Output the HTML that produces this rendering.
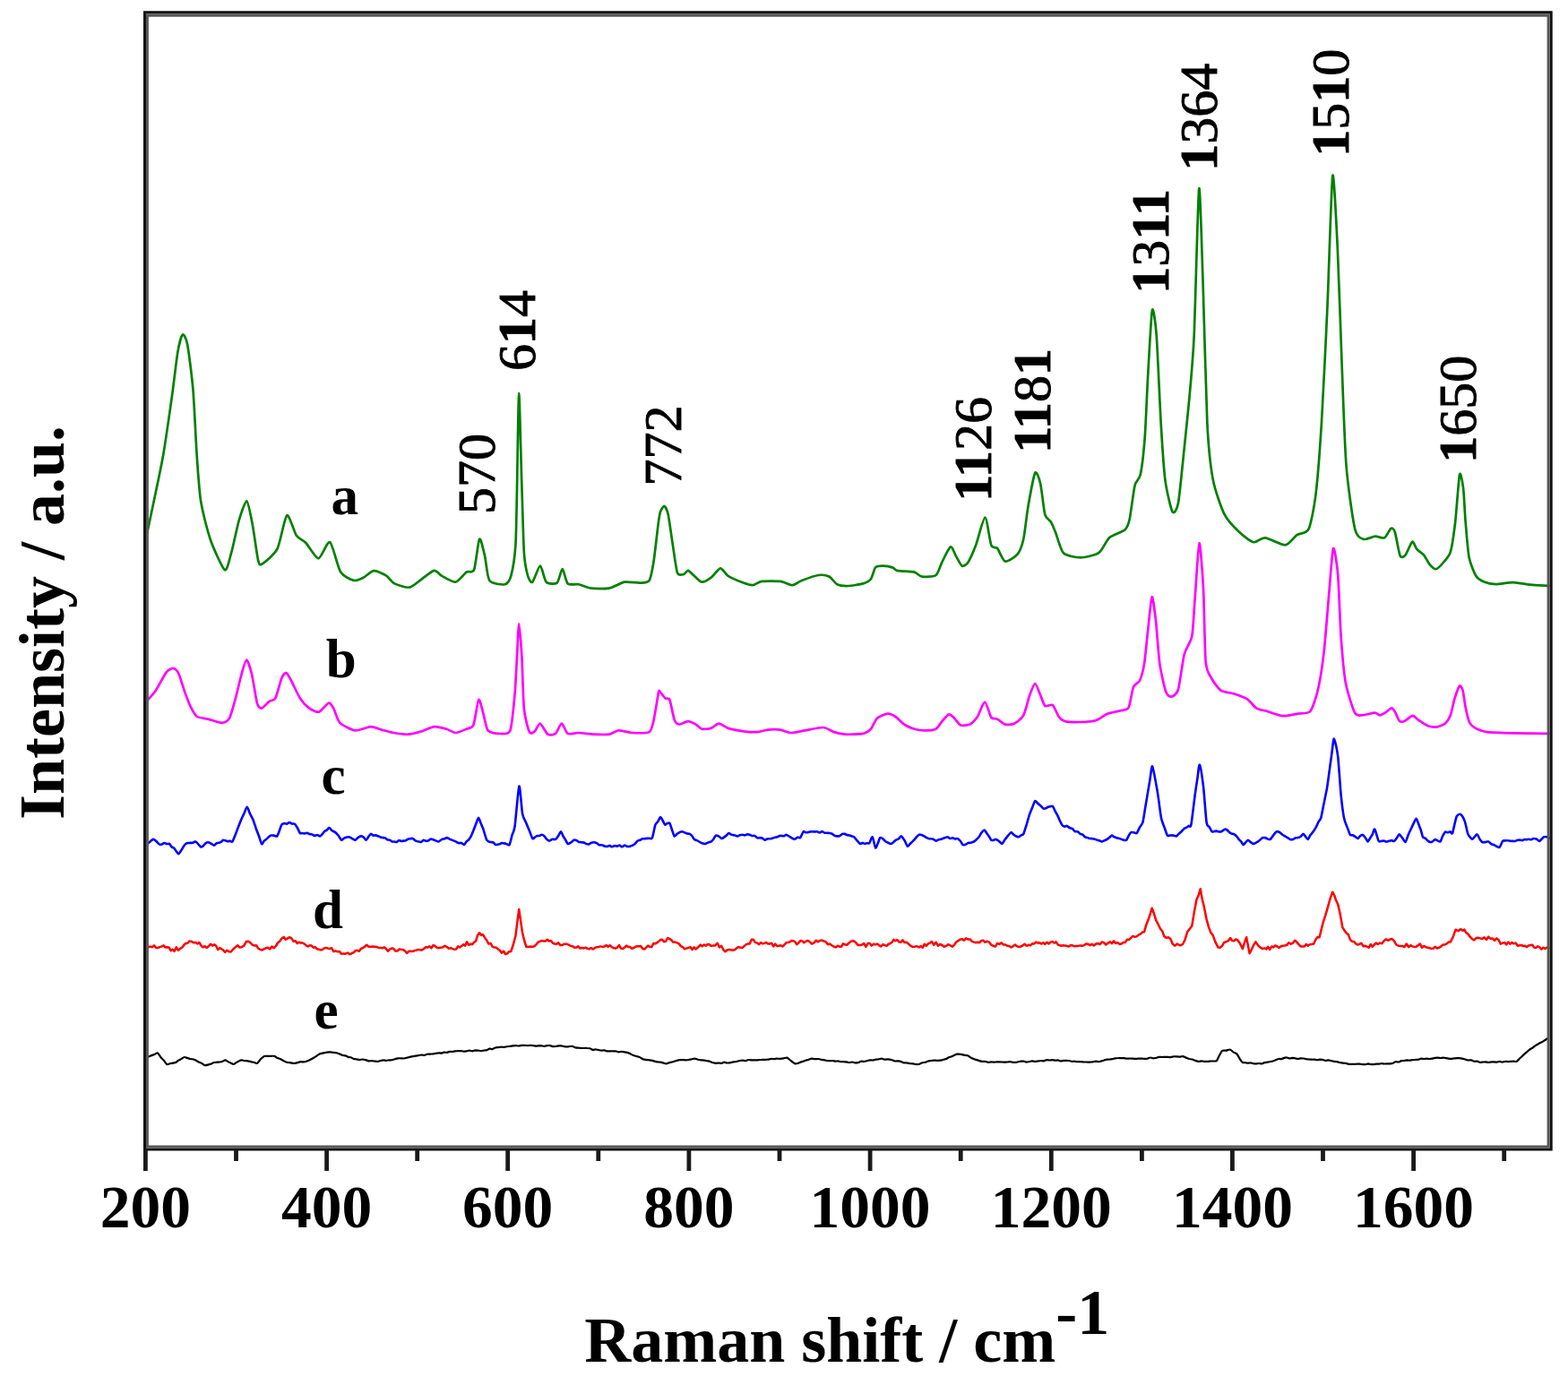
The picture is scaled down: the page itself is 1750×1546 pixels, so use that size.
<!DOCTYPE html>
<html><head><meta charset="utf-8"><title>Raman spectra</title>
<style>html,body{margin:0;padding:0;background:#fff;}svg{display:block;filter:blur(0.55px);}</style>
</head><body>
<svg width="1750" height="1546" viewBox="0 0 1750 1546">
<rect width="1750" height="1546" fill="#fff"/>
<path d="M163.2 599.8 C165.3 589.6 178.0 530.7 181.4 512.3 C184.8 493.9 190.0 455.8 192.0 441.8 C194.0 427.8 197.0 400.7 198.4 392.7 C199.8 384.7 202.6 374.5 203.8 373.5 C205.0 372.5 207.7 377.0 209.1 384.2 C210.5 391.4 214.3 420.7 215.5 435.4 C216.7 450.1 218.8 495.5 219.8 510.0 C220.8 524.5 222.4 548.6 224.1 559.3 C225.8 570.0 231.6 593.0 234.7 602.0 C237.8 611.0 248.1 634.4 250.8 636.1 C253.5 637.8 256.3 623.4 258.2 616.9 C260.1 610.4 264.8 587.3 266.8 580.6 C268.8 573.9 273.6 558.8 275.3 559.3 C277.0 559.8 280.2 577.2 281.7 584.9 C283.2 592.6 286.9 620.3 288.1 625.5 C289.3 630.7 289.9 631.2 292.4 629.7 C294.9 628.2 306.3 618.9 309.5 612.6 C312.7 606.3 317.7 577.0 320.2 575.3 C322.7 573.6 328.3 594.1 330.8 597.7 C333.3 601.3 338.6 603.2 341.5 606.2 C344.4 609.2 352.3 623.4 355.4 623.3 C358.5 623.2 365.3 603.5 368.2 605.2 C371.1 607.0 376.9 633.3 380.0 638.3 C383.1 643.3 391.9 647.2 394.9 647.9 C397.9 648.6 403.0 645.9 405.6 644.7 C408.2 643.5 414.3 637.4 417.3 637.2 C420.3 637.0 428.6 641.0 431.2 642.6 C433.8 644.2 436.7 649.6 439.7 651.1 C442.7 652.6 453.5 656.3 457.1 655.7 C460.7 655.1 467.7 648.5 470.9 646.3 C474.1 644.1 482.0 637.3 484.6 636.9 C487.2 636.5 490.3 641.4 493.1 642.9 C495.9 644.4 505.4 650.2 508.6 649.7 C511.8 649.2 518.2 640.2 520.6 638.6 C523.0 637.0 527.4 640.3 529.1 636.0 C530.8 631.7 533.7 603.5 535.1 601.7 C536.5 599.9 539.8 615.2 541.1 620.6 C542.4 626.0 543.7 644.3 546.3 648.0 C548.9 651.7 560.6 652.9 563.4 652.3 C566.2 651.7 568.9 648.0 570.3 642.9 C571.7 637.8 574.6 620.6 575.4 608.6 C576.2 596.6 576.7 559.8 577.1 540.0 C577.5 520.2 578.6 438.9 579.2 438.9 C579.8 438.9 581.6 519.2 582.3 540.0 C583.0 560.8 584.1 605.2 584.9 617.2 C585.7 629.2 588.0 639.1 589.1 642.9 C590.2 646.7 592.7 651.0 594.3 649.7 C595.9 648.4 601.1 631.7 602.9 631.7 C604.7 631.7 607.5 647.5 609.7 649.7 C611.9 651.9 619.6 652.3 621.7 650.6 C623.8 648.9 626.3 635.1 627.7 635.2 C629.1 635.3 631.6 649.4 633.7 651.4 C635.8 653.4 642.7 651.7 645.7 652.3 C648.7 652.9 655.4 656.1 659.4 656.6 C663.4 657.1 675.6 657.4 680.0 656.6 C684.4 655.8 693.1 650.4 697.1 649.7 C701.1 649.0 711.1 650.8 714.3 650.6 C717.5 650.4 722.8 650.9 724.6 648.0 C726.4 645.1 728.5 633.3 729.7 625.7 C730.9 618.1 734.0 589.3 734.9 582.9 C735.8 576.5 736.3 573.0 737.1 570.9 C737.9 568.8 740.4 564.5 741.4 564.9 C742.4 565.3 744.6 569.2 745.7 574.3 C746.8 579.4 749.7 601.0 750.9 608.6 C752.1 616.2 754.6 635.6 756.0 639.4 C757.4 643.2 761.5 641.4 762.9 641.1 C764.3 640.8 766.6 636.7 768.0 636.9 C769.4 637.1 773.1 641.4 774.9 642.9 C776.7 644.4 781.2 649.5 783.4 649.7 C785.6 649.9 791.3 646.4 793.7 644.6 C796.1 642.8 801.8 634.5 804.0 634.3 C806.2 634.1 809.6 641.0 812.6 642.9 C815.6 644.8 826.5 649.4 829.7 650.6 C832.9 651.8 837.6 653.4 840.0 653.2 C842.4 653.0 846.7 649.4 850.3 648.9 C853.9 648.4 866.9 648.4 870.9 648.9 C874.9 649.4 881.8 653.3 884.6 653.2 C887.4 653.1 891.5 649.3 894.9 648.0 C898.3 646.7 910.1 642.5 913.7 642.0 C917.3 641.5 923.3 642.5 925.7 643.7 C928.1 644.9 931.9 651.1 934.3 652.3 C936.7 653.5 942.9 654.1 946.3 654.0 C949.7 653.9 960.4 652.3 963.4 651.4 C966.4 650.5 970.4 648.4 972.0 646.3 C973.6 644.2 975.5 635.1 977.1 633.4 C978.7 631.7 983.5 631.7 985.7 631.7 C987.9 631.7 994.2 632.8 996.0 633.4 C997.8 634.0 999.4 636.4 1001.1 636.9 C1002.8 637.4 1008.0 637.5 1010.3 637.7 C1012.6 637.9 1018.4 637.9 1020.6 638.6 C1022.8 639.3 1026.3 643.3 1029.1 643.7 C1031.9 644.1 1042.0 643.9 1044.6 642.0 C1047.2 640.1 1049.5 631.1 1051.4 627.4 C1053.3 623.7 1059.1 611.1 1060.9 610.3 C1062.7 609.5 1065.4 618.1 1066.9 620.6 C1068.4 623.1 1072.1 630.9 1073.7 631.7 C1075.3 632.5 1078.8 630.1 1080.6 627.4 C1082.4 624.7 1086.9 614.4 1089.1 608.6 C1091.3 602.8 1097.4 577.7 1099.4 577.7 C1101.4 577.7 1104.7 604.6 1106.3 608.6 C1107.9 612.6 1111.3 609.9 1113.1 612.0 C1114.9 614.1 1119.1 625.8 1121.7 626.6 C1124.3 627.4 1133.0 621.8 1135.4 618.9 C1137.8 616.0 1140.9 607.9 1142.3 601.7 C1143.7 595.5 1145.9 574.3 1147.4 565.7 C1148.9 557.1 1153.6 531.0 1155.2 528.0 C1156.8 525.0 1159.9 534.6 1161.2 540.0 C1162.5 545.4 1164.9 569.3 1166.3 574.3 C1167.7 579.3 1171.7 580.5 1173.1 582.9 C1174.5 585.3 1176.7 590.9 1178.3 594.9 C1179.9 598.9 1183.7 614.0 1186.9 617.2 C1190.1 620.4 1201.1 622.3 1205.7 622.3 C1210.3 622.3 1222.5 619.8 1226.3 617.2 C1230.1 614.6 1234.9 603.0 1238.3 600.0 C1241.7 597.0 1252.8 593.7 1255.4 591.4 C1258.0 589.1 1259.3 585.8 1260.6 580.0 C1261.9 574.2 1265.1 548.0 1266.5 542.1 C1267.9 536.2 1271.6 535.6 1272.9 529.2 C1274.2 522.8 1276.9 499.5 1277.8 487.1 C1278.7 474.7 1280.1 438.9 1281.0 422.5 C1281.9 406.1 1284.8 352.2 1285.9 346.5 C1287.0 340.8 1289.6 359.5 1290.7 374.0 C1291.8 388.5 1294.5 452.1 1295.6 471.0 C1296.7 489.9 1298.9 523.9 1300.4 535.6 C1301.9 547.3 1306.8 568.2 1308.5 571.2 C1310.2 574.2 1313.5 569.4 1315.0 561.5 C1316.5 553.6 1319.9 517.6 1321.4 503.3 C1322.9 489.0 1326.6 453.7 1327.9 438.6 C1329.2 423.5 1331.5 400.6 1332.7 374.0 C1333.9 347.4 1337.1 218.2 1338.2 210.7 C1339.3 203.2 1341.3 278.9 1342.4 309.3 C1343.5 339.7 1346.0 444.6 1347.3 471.0 C1348.6 497.4 1351.5 523.5 1353.8 535.6 C1356.1 547.7 1363.3 567.6 1366.7 574.4 C1370.1 581.2 1379.1 590.2 1382.9 593.8 C1386.7 597.4 1395.6 604.4 1399.0 605.2 C1402.4 606.0 1407.8 599.9 1412.0 600.3 C1416.2 600.7 1430.5 608.8 1434.6 608.4 C1438.7 608.0 1444.5 599.2 1447.5 597.1 C1450.5 595.0 1458.0 595.9 1460.5 590.6 C1463.0 585.3 1466.8 565.8 1468.5 551.8 C1470.2 537.8 1473.5 495.5 1475.0 471.0 C1476.5 446.5 1480.1 373.8 1481.5 341.7 C1482.9 309.6 1486.0 203.7 1487.3 196.2 C1488.6 188.7 1491.6 252.5 1492.8 277.0 C1494.0 301.5 1496.5 378.0 1497.6 406.3 C1498.7 434.6 1500.8 498.0 1502.5 519.5 C1504.2 541.0 1509.9 581.0 1512.2 590.6 C1514.5 600.2 1519.3 601.0 1521.9 601.9 C1524.5 602.8 1532.1 598.9 1534.8 598.7 C1537.5 598.5 1543.2 601.3 1545.2 600.3 C1547.2 599.3 1550.9 590.8 1552.3 590.0 C1553.7 589.2 1555.6 590.3 1556.8 593.8 C1558.0 597.3 1561.2 617.4 1562.6 620.4 C1564.0 623.4 1566.9 621.5 1568.5 619.7 C1570.1 617.9 1574.7 605.6 1576.2 604.8 C1577.7 604.0 1579.9 611.5 1581.4 613.2 C1582.9 614.9 1587.5 617.7 1589.2 619.7 C1590.9 621.7 1594.0 628.3 1595.6 630.1 C1597.2 631.9 1600.9 635.5 1602.7 635.2 C1604.5 634.9 1609.3 629.8 1611.2 627.5 C1613.1 625.2 1617.4 620.9 1618.9 615.8 C1620.4 610.7 1622.9 593.5 1624.1 583.5 C1625.3 573.5 1628.0 534.3 1629.0 529.8 C1630.0 525.3 1632.3 538.4 1633.1 544.7 C1633.9 551.0 1634.9 574.4 1635.7 583.5 C1636.5 592.6 1638.2 615.4 1639.6 622.3 C1641.0 629.2 1645.4 639.8 1647.4 643.0 C1649.4 646.2 1653.8 648.4 1656.4 649.5 C1659.0 650.6 1665.6 652.0 1669.4 652.1 C1673.2 652.2 1684.3 650.0 1688.8 650.1 C1693.3 650.2 1703.5 652.2 1708.2 652.7 C1712.9 653.2 1726.5 653.8 1728.9 654.0" fill="none" stroke="#008000" stroke-width="2.7" stroke-linejoin="round" stroke-linecap="round"/>
<path d="M163.4 782.9 C164.6 781.5 171.1 774.7 173.7 770.9 C176.3 767.1 183.4 753.2 185.7 750.3 C188.0 747.4 191.8 745.8 193.4 746.0 C195.0 746.2 197.9 748.9 199.4 752.0 C200.9 755.1 204.7 768.2 206.3 772.6 C207.9 777.0 211.5 786.5 213.1 789.7 C214.7 792.9 217.8 798.5 220.0 800.0 C222.2 801.5 228.8 801.8 232.0 802.6 C235.2 803.4 244.6 807.0 247.4 806.9 C250.2 806.8 254.2 804.9 256.0 801.7 C257.8 798.5 261.3 785.2 262.9 779.4 C264.5 773.6 268.3 757.0 269.7 752.0 C271.1 747.0 273.9 736.6 275.2 736.6 C276.5 736.6 279.5 746.4 280.9 752.0 C282.3 757.6 285.6 780.1 286.9 784.6 C288.2 789.1 290.4 790.8 292.0 790.6 C293.6 790.4 298.8 784.2 300.6 782.9 C302.4 781.6 305.8 782.4 307.4 779.4 C309.0 776.4 312.9 760.4 314.3 757.1 C315.7 753.8 318.2 750.9 319.4 751.1 C320.6 751.3 322.8 755.6 324.6 758.9 C326.4 762.2 332.5 775.7 334.9 779.4 C337.3 783.1 342.8 788.8 345.2 790.6 C347.6 792.4 353.5 795.0 355.4 794.9 C357.3 794.8 360.0 790.9 361.4 789.7 C362.8 788.5 366.1 784.4 367.4 784.6 C368.7 784.8 371.2 788.8 372.6 791.4 C374.0 794.0 376.6 804.1 379.4 806.9 C382.2 809.7 392.6 814.9 396.6 815.4 C400.6 815.9 410.3 811.2 413.7 811.1 C417.1 811.0 422.7 813.8 425.7 814.6 C428.7 815.4 435.9 817.4 439.4 818.0 C442.9 818.6 451.7 819.9 455.4 819.7 C459.1 819.5 467.5 817.3 470.9 816.3 C474.3 815.3 481.4 811.4 484.6 811.1 C487.8 810.8 495.5 812.9 498.3 813.7 C501.1 814.5 506.0 818.0 508.6 818.0 C511.2 818.0 518.3 814.7 520.6 813.7 C522.9 812.7 526.7 813.2 528.3 809.4 C529.9 805.6 533.0 782.6 534.3 781.1 C535.6 779.6 538.2 792.6 539.4 796.6 C540.6 800.6 542.6 812.8 544.6 815.4 C546.6 818.0 553.7 818.9 556.6 818.9 C559.5 818.9 567.3 820.6 569.4 815.4 C571.5 810.2 573.7 784.1 574.6 774.3 C575.5 764.5 576.6 740.5 577.1 731.4 C577.6 722.3 578.6 696.3 579.2 696.3 C579.8 696.3 581.6 720.3 582.3 731.4 C583.0 742.5 583.9 781.4 584.9 791.4 C585.9 801.4 589.5 814.2 590.9 817.1 C592.3 820.0 595.5 817.4 596.9 816.3 C598.3 815.2 601.2 807.3 602.9 807.7 C604.6 808.1 609.4 818.4 611.4 819.7 C613.4 821.0 618.2 820.3 620.0 818.9 C621.8 817.5 625.3 807.7 626.9 807.7 C628.5 807.7 631.5 817.7 633.7 818.9 C635.9 820.1 642.3 817.9 645.7 818.0 C649.1 818.1 658.9 819.5 662.9 819.7 C666.9 819.9 676.8 820.2 680.0 819.7 C683.2 819.2 687.3 815.6 690.3 815.4 C693.3 815.2 701.7 817.8 705.7 818.0 C709.7 818.2 721.8 818.8 724.6 817.1 C727.4 815.4 728.5 808.5 729.7 803.4 C730.9 798.3 734.1 777.1 734.9 773.4 C735.7 769.7 735.4 771.0 736.3 771.7 C737.2 772.4 741.0 778.3 742.3 779.4 C743.6 780.5 746.2 778.3 747.4 781.1 C748.6 783.9 751.4 800.2 752.6 803.4 C753.8 806.6 755.9 808.4 757.7 808.6 C759.5 808.8 765.8 805.1 768.0 805.1 C770.2 805.1 774.8 807.6 776.6 808.6 C778.4 809.6 781.4 813.2 783.4 813.7 C785.4 814.2 791.5 813.6 793.7 812.9 C795.9 812.2 800.1 807.7 802.3 807.7 C804.5 807.7 809.4 811.9 812.6 812.9 C815.8 813.9 825.9 815.8 829.7 816.3 C833.5 816.8 841.9 817.3 845.1 817.1 C848.3 816.9 854.1 814.9 857.1 814.6 C860.1 814.3 867.9 814.2 870.9 814.6 C873.9 815.0 879.7 817.9 882.9 818.0 C886.1 818.1 894.1 816.1 898.3 815.4 C902.5 814.7 915.1 811.8 918.9 812.0 C922.7 812.2 928.1 816.2 930.9 817.1 C933.7 818.0 939.1 819.5 942.9 819.7 C946.7 819.9 960.0 819.6 963.4 818.9 C966.8 818.2 970.2 815.7 972.0 813.7 C973.8 811.7 976.7 803.7 978.9 801.7 C981.1 799.7 988.5 796.8 990.9 796.6 C993.3 796.4 997.2 798.6 999.4 800.0 C1001.6 801.4 1007.2 807.4 1009.7 809.0 C1012.2 810.6 1018.1 813.0 1020.6 813.7 C1023.1 814.4 1028.1 815.4 1030.9 815.4 C1033.7 815.4 1042.2 814.9 1044.6 813.7 C1047.0 812.5 1049.7 807.0 1051.4 805.1 C1053.1 803.2 1057.5 797.8 1059.1 797.4 C1060.7 797.0 1063.6 800.3 1065.1 801.7 C1066.6 803.1 1070.0 808.6 1072.0 809.4 C1074.0 810.2 1080.1 809.7 1082.3 808.6 C1084.5 807.5 1088.9 802.9 1090.9 800.0 C1092.9 797.1 1097.3 783.6 1099.1 783.7 C1100.9 783.8 1104.7 798.7 1106.3 800.9 C1107.9 803.1 1111.3 801.7 1113.1 802.6 C1114.9 803.5 1119.5 808.0 1121.7 808.6 C1123.9 809.2 1129.6 808.9 1132.0 807.7 C1134.4 806.5 1140.3 802.0 1142.3 798.3 C1144.3 794.6 1147.7 780.1 1149.2 776.0 C1150.7 771.9 1153.8 763.1 1155.2 763.1 C1156.6 763.1 1159.9 773.1 1161.2 776.0 C1162.5 778.9 1164.7 786.7 1166.3 788.0 C1167.9 789.3 1173.1 785.7 1174.9 787.1 C1176.7 788.5 1180.1 797.9 1181.7 800.0 C1183.3 802.1 1185.8 804.4 1188.6 805.1 C1191.4 805.8 1201.7 806.1 1205.7 806.0 C1209.7 805.9 1219.3 805.4 1222.9 804.3 C1226.5 803.2 1232.8 798.0 1236.6 796.6 C1240.4 795.2 1252.7 793.2 1255.4 792.3 C1258.1 791.4 1258.9 791.9 1260.0 788.9 C1261.1 785.9 1263.7 770.0 1265.1 766.6 C1266.5 763.2 1270.6 762.7 1272.0 759.7 C1273.4 756.7 1276.0 747.7 1277.1 740.9 C1278.2 734.1 1280.4 710.1 1281.4 701.4 C1282.4 692.7 1284.7 667.3 1285.7 666.3 C1286.7 665.3 1289.0 684.2 1290.0 692.9 C1291.0 701.6 1293.0 731.7 1294.3 740.9 C1295.6 750.1 1299.6 767.4 1301.1 771.7 C1302.6 776.0 1305.5 777.9 1307.1 777.7 C1308.7 777.5 1313.2 775.5 1314.9 770.0 C1316.6 764.5 1319.9 737.6 1321.7 730.6 C1323.5 723.6 1328.9 717.4 1330.3 710.0 C1331.7 702.6 1332.7 679.2 1333.7 667.1 C1334.7 655.0 1337.4 607.3 1338.5 606.3 C1339.6 605.3 1342.3 643.1 1343.1 658.6 C1343.9 674.1 1344.6 727.5 1345.7 739.1 C1346.8 750.7 1350.6 754.3 1352.6 758.0 C1354.6 761.7 1360.1 769.0 1362.9 770.9 C1365.7 772.8 1373.2 773.2 1376.6 774.3 C1380.0 775.4 1389.0 778.4 1392.0 780.3 C1395.0 782.2 1399.7 789.0 1402.3 790.6 C1404.9 792.2 1410.9 793.0 1414.3 794.0 C1417.7 795.0 1427.4 798.9 1431.4 799.2 C1435.4 799.5 1445.0 797.2 1448.6 796.6 C1452.2 796.0 1459.7 797.1 1462.3 794.0 C1464.9 790.9 1469.1 777.8 1470.9 770.0 C1472.7 762.2 1476.3 739.1 1477.7 727.1 C1479.1 715.1 1481.7 680.5 1482.9 667.1 C1484.1 653.7 1486.8 615.3 1488.0 612.3 C1489.2 609.3 1492.2 630.0 1493.2 641.4 C1494.2 652.8 1495.6 696.0 1496.6 710.0 C1497.6 724.0 1499.9 751.4 1501.7 761.4 C1503.5 771.4 1509.8 791.4 1512.0 795.7 C1514.2 800.0 1518.0 798.3 1520.6 798.3 C1523.2 798.3 1532.0 795.7 1534.3 795.7 C1536.6 795.7 1538.5 798.4 1540.0 798.3 C1541.5 798.2 1545.4 795.8 1546.9 794.9 C1548.4 794.0 1551.9 790.3 1553.1 790.3 C1554.3 790.3 1556.1 793.2 1557.1 794.9 C1558.1 796.6 1560.5 803.4 1561.7 804.6 C1562.9 805.8 1565.7 805.8 1567.4 805.1 C1569.1 804.4 1574.7 799.0 1576.6 798.9 C1578.5 798.8 1581.4 802.7 1583.4 804.0 C1585.4 805.3 1591.3 809.4 1593.7 810.3 C1596.1 811.2 1601.7 811.7 1604.0 811.4 C1606.3 811.1 1611.4 808.9 1613.1 807.4 C1614.8 805.9 1617.7 801.5 1618.9 798.3 C1620.1 795.1 1622.2 783.8 1623.4 780.0 C1624.6 776.2 1627.8 766.8 1628.9 765.7 C1630.0 764.6 1631.8 767.9 1632.6 770.9 C1633.4 773.9 1635.1 787.1 1636.0 791.4 C1636.9 795.7 1639.1 804.8 1640.6 807.4 C1642.1 810.0 1646.3 812.6 1648.6 813.7 C1650.9 814.8 1655.3 816.6 1660.0 817.1 C1664.7 817.6 1680.6 818.1 1688.6 818.3 C1696.6 818.5 1723.9 818.8 1728.6 818.9" fill="none" stroke="#ff00ff" stroke-width="2.7" stroke-linejoin="round" stroke-linecap="round"/>
<path d="M163.4 942.9 C163.7 942.7 165.4 941.3 166.0 940.8 C166.6 940.3 167.9 939.1 168.5 938.6 C169.1 938.2 170.5 936.9 171.1 936.9 C171.7 936.9 173.4 938.1 174.1 938.7 C174.8 939.3 176.4 941.5 177.1 942.0 C177.8 942.5 179.4 942.8 180.1 942.7 C180.8 942.6 182.4 941.1 183.1 941.0 C183.8 940.9 185.4 941.9 186.1 942.0 C186.8 942.1 188.4 941.6 189.1 942.0 C189.8 942.4 191.1 945.0 191.7 945.6 C192.3 946.1 193.6 946.1 194.2 946.7 C194.9 947.3 196.2 949.7 196.8 950.4 C197.4 951.2 198.7 953.4 199.4 953.1 C200.1 952.8 202.0 949.4 202.9 948.2 C203.7 947.0 205.5 943.7 206.3 942.9 C207.1 942.1 208.6 941.3 209.3 941.1 C210.0 940.9 211.6 941.0 212.3 940.9 C213.0 940.9 214.6 940.9 215.3 940.7 C216.0 940.5 217.6 939.2 218.3 939.4 C219.0 939.6 220.6 941.6 221.3 942.3 C222.0 943.0 223.7 945.2 224.3 945.4 C224.9 945.6 226.3 944.6 226.9 944.2 C227.5 943.7 228.8 941.8 229.4 941.3 C230.0 940.9 231.3 940.3 232.0 940.3 C232.7 940.3 234.6 941.1 235.4 941.5 C236.3 941.9 238.2 943.7 238.9 943.7 C239.6 943.7 240.9 941.8 241.4 941.4 C242.0 941.1 243.4 940.9 244.0 940.7 C244.6 940.6 246.0 940.4 246.6 940.0 C247.1 939.7 248.5 937.9 249.1 937.7 C249.7 937.5 251.1 938.1 251.7 938.3 C252.3 938.5 253.6 939.0 254.2 939.1 C254.9 939.1 256.2 938.7 256.8 938.7 C257.4 938.8 258.7 940.3 259.4 939.4 C260.1 938.5 262.0 933.3 262.9 931.3 C263.7 929.3 265.5 924.3 266.3 922.3 C267.1 920.3 268.7 916.1 269.4 914.4 C270.2 912.7 271.8 909.2 272.6 907.6 C273.3 906.0 274.9 900.8 275.7 900.9 C276.5 901.0 278.3 906.8 279.1 908.5 C280.0 910.2 281.8 913.5 282.6 915.4 C283.4 917.3 285.0 922.7 285.7 924.7 C286.5 926.8 288.1 931.0 288.9 933.0 C289.6 935.0 291.3 941.3 292.0 942.0 C292.7 942.7 294.0 939.4 294.6 938.8 C295.2 938.2 296.5 937.4 297.1 936.8 C297.8 936.3 299.1 934.9 299.7 934.4 C300.3 933.9 301.6 932.8 302.3 932.6 C303.0 932.4 304.9 932.5 305.7 932.6 C306.5 932.7 308.4 934.0 309.1 933.4 C309.8 932.8 311.1 929.1 311.7 927.6 C312.3 926.1 313.7 921.6 314.3 920.6 C314.9 919.6 316.5 919.2 317.2 919.1 C317.8 919.0 319.4 919.8 320.0 919.6 C320.7 919.5 322.2 918.0 322.9 918.0 C323.6 918.0 325.2 919.4 325.9 919.6 C326.6 919.8 328.2 919.2 328.9 919.7 C329.6 920.2 331.2 922.8 331.9 924.0 C332.6 925.2 334.2 929.3 334.9 930.0 C335.6 930.7 336.9 929.9 337.5 930.0 C338.1 930.0 339.4 930.5 340.0 930.4 C340.7 930.4 342.0 929.7 342.6 929.7 C343.2 929.8 344.6 930.7 345.2 930.9 C345.8 931.1 347.5 931.1 348.2 931.4 C348.9 931.6 350.5 932.9 351.1 933.0 C351.8 933.0 353.4 931.9 354.1 932.0 C354.8 932.1 356.5 933.5 357.1 933.4 C357.7 933.3 359.1 931.9 359.7 931.2 C360.3 930.6 361.6 928.5 362.2 927.9 C362.9 927.4 364.2 927.0 364.8 926.5 C365.4 926.0 366.7 923.9 367.4 924.0 C368.1 924.1 370.0 926.7 370.9 927.3 C371.7 927.9 373.5 928.5 374.3 929.1 C375.1 929.7 376.9 931.8 377.7 932.8 C378.5 933.8 380.4 937.4 381.1 937.7 C381.8 938.0 383.3 935.9 384.0 935.6 C384.6 935.2 386.2 934.8 386.8 934.6 C387.5 934.5 389.0 934.1 389.7 934.3 C390.4 934.5 392.3 935.7 393.1 936.1 C394.0 936.5 395.8 937.9 396.6 937.7 C397.4 937.5 399.2 935.1 400.0 934.6 C400.8 934.1 402.7 933.4 403.4 933.4 C404.1 933.4 405.4 934.2 406.0 934.7 C406.6 935.2 408.0 937.7 408.6 937.7 C409.2 937.7 410.6 935.1 411.1 934.3 C411.7 933.5 413.1 931.1 413.7 930.9 C414.3 930.7 415.8 932.4 416.4 932.6 C417.1 932.8 418.5 932.3 419.2 932.4 C419.8 932.5 421.3 933.0 421.9 933.2 C422.6 933.5 424.0 934.3 424.7 934.5 C425.3 934.8 426.8 935.0 427.4 935.1 C428.0 935.2 429.4 935.1 430.0 935.4 C430.6 935.6 431.9 937.1 432.5 937.4 C433.2 937.7 434.5 937.4 435.1 937.7 C435.7 937.9 437.1 939.2 437.7 939.4 C438.3 939.6 439.6 939.4 440.2 939.5 C440.8 939.5 442.2 940.2 442.7 940.0 C443.3 939.8 444.7 938.2 445.3 938.0 C445.8 937.9 447.2 938.8 447.8 938.9 C448.4 938.9 449.7 938.7 450.3 938.6 C450.9 938.5 452.3 938.4 452.9 938.2 C453.5 937.9 454.8 936.8 455.5 936.6 C456.1 936.4 457.4 936.3 458.0 936.2 C458.6 936.1 459.9 935.7 460.6 936.0 C461.3 936.3 463.2 938.3 464.0 938.7 C464.8 939.1 466.7 939.2 467.4 939.4 C468.1 939.6 469.4 940.2 470.0 940.0 C470.6 939.8 472.0 938.0 472.6 937.8 C473.2 937.6 474.5 938.5 475.1 938.6 C475.8 938.7 477.1 938.8 477.7 938.6 C478.3 938.4 479.7 937.0 480.3 936.8 C480.9 936.6 482.2 936.7 482.9 936.9 C483.6 937.1 485.5 938.1 486.3 938.4 C487.1 938.7 488.9 939.6 489.7 939.4 C490.5 939.2 492.1 937.4 492.8 937.1 C493.6 936.7 495.2 936.5 496.0 936.3 C496.7 936.0 498.4 935.0 499.1 935.1 C499.8 935.2 501.5 936.5 502.3 936.9 C503.0 937.2 504.7 937.9 505.4 938.1 C506.2 938.4 507.9 939.1 508.6 939.4 C509.3 939.7 511.0 940.9 511.7 941.1 C512.5 941.3 514.1 940.7 514.9 940.9 C515.6 941.1 517.3 943.1 518.0 942.9 C518.7 942.7 520.0 940.1 520.6 939.4 C521.2 938.8 522.5 938.0 523.1 937.3 C523.7 936.6 525.1 934.6 525.7 933.4 C526.3 932.2 527.8 928.3 528.5 926.7 C529.1 925.1 530.6 921.3 531.2 919.6 C531.9 918.0 533.4 913.0 534.0 912.9 C534.6 912.8 536.1 917.6 536.7 919.1 C537.3 920.6 538.7 923.6 539.4 925.7 C540.1 927.8 542.2 935.3 542.9 936.9 C543.6 938.5 544.9 939.0 545.5 939.4 C546.0 939.7 547.4 939.9 548.0 940.0 C548.6 940.2 550.0 940.1 550.5 940.4 C551.1 940.8 552.4 942.6 553.1 942.9 C553.8 943.2 555.7 942.8 556.5 942.6 C557.4 942.4 559.3 941.2 560.0 941.1 C560.7 941.0 562.2 941.2 562.9 941.4 C563.5 941.5 565.1 942.0 565.7 942.2 C566.4 942.3 567.9 944.1 568.6 942.9 C569.3 941.7 570.9 934.4 571.6 932.0 C572.3 929.6 573.7 928.6 574.6 922.3 C575.5 916.0 578.4 879.3 579.4 877.7 C580.4 876.1 582.2 903.8 583.1 908.6 C584.0 913.4 586.5 916.7 587.4 918.9 C588.3 921.1 590.0 925.3 590.8 927.3 C591.7 929.3 593.6 935.2 594.3 936.0 C595.0 936.8 596.3 934.9 596.9 934.6 C597.5 934.2 598.8 933.2 599.5 933.0 C600.1 932.8 601.4 933.2 602.0 933.0 C602.6 932.9 604.0 931.7 604.6 931.7 C605.2 931.7 606.8 932.6 607.4 933.2 C608.1 933.8 609.6 936.2 610.3 936.9 C610.9 937.5 612.4 938.6 613.1 938.6 C613.8 938.6 615.7 937.0 616.5 936.8 C617.4 936.6 619.2 937.3 620.0 936.9 C620.8 936.5 622.3 934.2 623.0 933.2 C623.7 932.2 625.4 928.3 626.0 928.3 C626.6 928.3 628.0 932.4 628.6 933.5 C629.2 934.5 630.5 936.4 631.1 937.4 C631.7 938.4 633.0 941.7 633.7 942.0 C634.4 942.3 636.3 940.8 637.2 940.3 C638.0 939.8 639.9 938.0 640.6 937.7 C641.3 937.4 642.7 937.8 643.3 938.1 C644.0 938.3 645.4 939.7 646.1 939.9 C646.7 940.1 648.2 940.0 648.8 940.1 C649.5 940.2 650.9 940.4 651.6 940.6 C652.2 940.8 653.6 941.8 654.3 942.0 C655.0 942.2 656.5 942.5 657.2 942.4 C657.8 942.2 659.4 940.9 660.0 940.7 C660.7 940.4 662.2 940.2 662.9 940.3 C663.6 940.4 665.2 940.8 665.9 941.1 C666.6 941.5 668.2 942.9 668.9 943.2 C669.6 943.4 671.2 943.1 671.9 943.3 C672.6 943.4 674.2 944.4 674.9 944.6 C675.6 944.8 677.0 945.0 677.6 944.9 C678.3 944.9 679.7 943.9 680.4 943.9 C681.0 944.0 682.5 945.3 683.1 945.3 C683.8 945.3 685.2 944.2 685.9 944.1 C686.5 944.0 687.9 944.7 688.6 944.6 C689.3 944.5 690.8 943.5 691.5 943.6 C692.1 943.6 693.6 945.3 694.3 945.3 C695.0 945.2 696.5 943.5 697.2 943.5 C697.8 943.5 699.3 944.7 700.0 944.9 C700.7 945.0 702.2 945.0 702.9 944.8 C703.5 944.7 705.0 944.0 705.7 943.7 C706.4 943.4 707.9 942.5 708.6 941.9 C709.2 941.3 710.8 939.2 711.4 938.7 C712.1 938.2 713.6 938.0 714.3 937.7 C715.0 937.4 716.4 936.5 717.0 936.3 C717.7 936.1 719.1 936.1 719.8 936.1 C720.4 936.0 721.9 935.9 722.5 935.9 C723.2 935.9 724.6 935.9 725.3 935.8 C725.9 935.7 727.3 936.9 728.0 935.1 C728.7 933.3 730.7 922.7 731.4 920.6 C732.1 918.5 733.6 918.2 734.2 917.2 C734.9 916.2 736.5 912.1 737.1 912.0 C737.7 911.9 739.1 915.0 739.7 916.0 C740.3 917.0 741.7 920.2 742.3 920.6 C742.9 921.0 744.3 919.2 744.8 919.0 C745.4 918.8 746.8 918.1 747.4 918.9 C748.0 919.7 749.4 924.6 750.0 926.3 C750.6 928.0 752.0 932.9 752.6 933.4 C753.2 933.9 754.8 931.5 755.4 931.0 C756.1 930.5 757.6 929.5 758.3 929.2 C758.9 928.9 760.4 928.3 761.1 928.3 C761.8 928.3 763.3 929.0 764.0 929.3 C764.6 929.5 766.2 930.2 766.8 930.4 C767.5 930.6 769.1 930.6 769.7 930.9 C770.3 931.2 771.7 932.3 772.3 933.0 C772.9 933.7 774.2 936.3 774.9 936.9 C775.6 937.5 777.2 937.7 777.9 938.1 C778.6 938.4 780.2 939.5 780.9 939.9 C781.6 940.2 783.2 941.0 783.9 941.3 C784.6 941.5 786.2 942.1 786.9 942.0 C787.6 941.9 789.5 940.8 790.3 940.5 C791.1 940.2 793.0 939.8 793.7 939.4 C794.4 939.0 795.7 937.6 796.3 936.8 C796.9 936.0 798.2 933.0 798.9 932.6 C799.6 932.2 801.5 933.2 802.3 933.6 C803.1 934.0 805.0 935.9 805.7 936.0 C806.4 936.1 807.7 934.8 808.3 934.4 C808.9 934.0 810.2 933.1 810.8 932.5 C811.4 932.0 812.7 930.1 813.4 930.0 C814.1 929.9 815.8 931.6 816.6 931.9 C817.3 932.2 819.0 932.1 819.7 932.3 C820.5 932.4 822.2 933.4 822.9 933.4 C823.6 933.4 825.0 932.4 825.6 932.3 C826.3 932.1 827.7 931.8 828.4 931.8 C829.0 931.8 830.5 932.5 831.1 932.4 C831.8 932.4 833.2 931.5 833.9 931.4 C834.5 931.3 835.9 931.5 836.6 931.7 C837.3 931.9 838.8 932.8 839.5 933.0 C840.1 933.1 841.6 932.6 842.3 932.9 C843.0 933.1 844.5 935.0 845.2 935.3 C845.8 935.5 847.3 935.1 848.0 935.1 C848.7 935.2 850.2 935.4 850.9 935.7 C851.5 936.0 853.0 937.6 853.7 937.7 C854.4 937.8 855.8 936.5 856.4 936.4 C857.1 936.2 858.5 936.3 859.2 936.3 C859.8 936.2 861.3 936.0 861.9 935.8 C862.6 935.6 864.0 934.9 864.7 934.8 C865.3 934.6 866.8 934.5 867.4 934.3 C868.0 934.1 869.4 933.2 870.0 933.0 C870.6 932.8 871.9 932.9 872.5 933.0 C873.2 933.0 874.5 933.4 875.1 933.2 C875.7 933.1 877.0 931.6 877.7 931.7 C878.4 931.8 880.3 933.4 881.2 933.9 C882.0 934.4 883.9 935.7 884.6 936.0 C885.3 936.3 886.8 936.8 887.4 936.6 C888.1 936.4 889.6 934.6 890.3 934.5 C890.9 934.3 892.4 935.8 893.1 935.1 C893.8 934.4 895.9 929.0 896.6 928.3 C897.3 927.6 898.6 929.2 899.2 929.3 C899.8 929.4 901.1 929.2 901.7 929.1 C902.3 929.0 903.7 928.5 904.3 928.4 C904.9 928.3 906.3 928.3 906.9 928.3 C907.5 928.3 908.8 928.4 909.4 928.4 C910.0 928.4 911.4 928.2 912.0 928.3 C912.6 928.4 914.1 929.5 914.7 929.5 C915.4 929.4 916.8 928.1 917.5 928.1 C918.1 928.1 919.6 929.4 920.2 929.6 C920.9 929.8 922.3 929.7 923.0 929.7 C923.6 929.8 925.0 929.9 925.7 930.0 C926.4 930.1 927.9 930.4 928.6 930.7 C929.2 931.1 930.8 932.4 931.4 932.7 C932.1 933.0 933.6 933.4 934.3 933.4 C935.0 933.4 936.5 933.3 937.2 933.0 C937.8 932.7 939.4 931.2 940.0 930.9 C940.7 930.7 942.3 930.8 942.9 930.9 C943.5 931.0 944.9 932.0 945.5 932.1 C946.1 932.3 947.4 932.4 948.0 932.5 C948.7 932.7 950.0 933.2 950.6 933.4 C951.2 933.6 952.5 933.7 953.2 934.3 C953.9 934.9 955.8 937.5 956.6 938.4 C957.4 939.3 959.3 941.7 960.0 942.0 C960.7 942.3 962.0 940.9 962.6 940.9 C963.2 940.9 964.5 941.7 965.1 941.8 C965.8 941.8 967.1 941.1 967.7 941.1 C968.3 941.0 969.6 941.9 970.3 941.1 C971.0 940.3 972.9 933.7 973.7 934.3 C974.5 934.9 976.4 945.5 977.1 946.3 C977.8 947.1 979.1 942.8 979.7 941.5 C980.3 940.2 981.6 935.7 982.3 935.1 C983.0 934.5 984.6 935.8 985.3 936.3 C986.0 936.8 987.6 938.7 988.3 939.2 C989.0 939.7 990.6 940.4 991.3 940.7 C992.0 941.1 993.6 942.1 994.3 942.0 C995.0 941.9 996.5 940.6 997.1 940.1 C997.8 939.6 999.3 938.1 1000.0 937.7 C1000.7 937.3 1002.3 936.8 1003.0 936.3 C1003.7 935.8 1005.2 933.2 1006.0 933.4 C1006.8 933.6 1008.6 936.8 1009.5 938.1 C1010.3 939.4 1012.2 944.1 1012.9 944.6 C1013.6 945.1 1014.9 942.8 1015.5 942.2 C1016.1 941.6 1017.4 940.2 1018.0 939.7 C1018.6 939.1 1020.0 937.9 1020.6 937.2 C1021.2 936.6 1022.5 934.7 1023.1 934.1 C1023.7 933.4 1025.1 931.9 1025.7 931.7 C1026.3 931.5 1027.9 931.8 1028.6 932.0 C1029.2 932.2 1030.8 933.0 1031.4 933.3 C1032.1 933.7 1033.7 934.8 1034.3 935.1 C1034.9 935.4 1036.3 936.1 1036.9 936.2 C1037.5 936.3 1038.8 936.1 1039.4 936.2 C1040.1 936.3 1041.4 936.6 1042.0 936.9 C1042.6 937.1 1044.0 938.5 1044.6 938.6 C1045.2 938.7 1046.6 937.6 1047.2 937.4 C1047.8 937.2 1049.1 937.0 1049.8 936.8 C1050.4 936.6 1051.7 936.2 1052.3 936.0 C1052.9 935.8 1054.3 935.3 1054.9 935.1 C1055.5 934.9 1057.0 934.2 1057.6 934.3 C1058.3 934.4 1059.7 935.9 1060.4 936.0 C1061.0 936.1 1062.5 935.3 1063.1 935.3 C1063.8 935.4 1065.2 936.3 1065.9 936.4 C1066.5 936.5 1067.9 935.8 1068.6 936.0 C1069.3 936.2 1070.9 937.7 1071.6 938.5 C1072.3 939.3 1073.9 942.4 1074.6 942.9 C1075.3 943.4 1076.8 943.0 1077.5 942.8 C1078.2 942.5 1079.7 941.2 1080.4 941.0 C1081.1 940.8 1082.6 940.9 1083.3 940.7 C1084.0 940.6 1085.5 940.1 1086.2 939.7 C1086.9 939.4 1088.4 938.3 1089.1 937.7 C1089.8 937.1 1091.5 935.6 1092.3 934.7 C1093.0 933.7 1094.7 930.5 1095.4 929.5 C1096.2 928.6 1097.9 926.5 1098.6 926.6 C1099.3 926.7 1100.6 929.2 1101.2 930.0 C1101.8 930.8 1103.1 932.6 1103.7 933.5 C1104.3 934.4 1105.7 937.2 1106.3 937.7 C1106.9 938.2 1108.3 938.0 1108.8 937.9 C1109.4 937.8 1110.7 936.8 1111.4 936.9 C1112.1 937.0 1114.0 938.2 1114.8 938.8 C1115.7 939.4 1117.6 942.1 1118.3 942.0 C1119.0 941.9 1120.3 939.1 1120.9 938.2 C1121.5 937.4 1122.8 935.5 1123.4 934.8 C1124.1 934.0 1125.4 932.2 1126.0 931.6 C1126.6 930.9 1128.0 929.1 1128.6 929.1 C1129.2 929.1 1130.8 931.2 1131.4 931.7 C1132.1 932.2 1133.6 933.2 1134.3 933.5 C1134.9 933.8 1136.5 934.4 1137.1 934.3 C1137.7 934.2 1139.1 932.7 1139.7 932.3 C1140.3 931.9 1141.6 932.3 1142.3 930.9 C1143.0 929.5 1144.9 922.8 1145.8 920.2 C1146.6 917.6 1148.4 910.8 1149.2 908.6 C1150.0 906.4 1151.5 902.9 1152.2 901.2 C1152.9 899.5 1154.5 894.5 1155.2 894.0 C1155.9 893.5 1157.6 896.3 1158.3 896.9 C1159.1 897.5 1160.7 898.8 1161.5 899.5 C1162.2 900.1 1163.9 902.3 1164.6 902.6 C1165.3 902.9 1166.6 902.4 1167.2 902.2 C1167.8 902.0 1169.1 901.0 1169.8 900.8 C1170.4 900.5 1171.7 900.3 1172.3 900.2 C1172.9 900.1 1174.3 899.4 1174.9 900.0 C1175.5 900.6 1176.9 904.1 1177.5 905.2 C1178.0 906.3 1179.4 908.5 1180.0 909.7 C1180.6 910.9 1182.0 914.1 1182.5 915.3 C1183.1 916.6 1184.5 919.7 1185.1 920.6 C1185.7 921.5 1187.3 922.5 1188.0 922.6 C1188.6 922.8 1190.2 921.8 1190.8 921.9 C1191.5 922.1 1193.0 923.6 1193.7 924.0 C1194.4 924.4 1196.0 924.5 1196.7 924.9 C1197.4 925.4 1199.0 927.7 1199.7 928.0 C1200.4 928.4 1202.0 928.0 1202.7 928.3 C1203.4 928.6 1205.0 930.5 1205.7 930.9 C1206.4 931.3 1207.7 931.3 1208.3 931.7 C1208.9 932.1 1210.2 933.8 1210.8 934.2 C1211.5 934.5 1212.8 934.7 1213.4 934.9 C1214.0 935.2 1215.4 935.9 1216.0 936.0 C1216.6 936.1 1218.1 936.1 1218.7 936.1 C1219.4 936.2 1220.8 936.3 1221.5 936.5 C1222.1 936.6 1223.6 937.4 1224.2 937.6 C1224.9 937.8 1226.3 938.1 1227.0 938.3 C1227.6 938.5 1229.1 939.4 1229.7 939.4 C1230.3 939.4 1231.8 938.6 1232.5 938.3 C1233.2 938.0 1234.6 937.4 1235.3 937.0 C1236.0 936.6 1237.4 935.4 1238.1 934.9 C1238.8 934.4 1240.3 932.7 1240.9 932.6 C1241.5 932.5 1243.0 934.0 1243.6 934.3 C1244.3 934.6 1245.7 935.0 1246.3 935.2 C1247.0 935.4 1248.4 935.7 1249.1 935.9 C1249.7 936.1 1251.1 936.6 1251.8 936.8 C1252.4 937.1 1253.8 937.7 1254.5 937.8 C1255.1 937.9 1256.6 938.3 1257.2 937.7 C1257.8 937.1 1259.2 933.6 1259.8 932.6 C1260.3 931.6 1261.6 929.5 1262.3 929.1 C1263.0 928.7 1264.7 929.1 1265.4 929.2 C1266.2 929.3 1267.8 930.7 1268.6 930.0 C1269.4 929.3 1271.2 924.9 1272.0 923.5 C1272.8 922.1 1274.7 920.4 1275.4 918.0 C1276.1 915.6 1277.4 906.4 1278.0 902.8 C1278.6 899.2 1280.0 890.8 1280.6 887.1 C1281.2 883.4 1282.7 874.9 1283.3 871.2 C1284.0 867.5 1285.2 854.5 1286.1 855.4 C1287.0 856.3 1290.0 873.9 1290.9 878.6 C1291.8 883.3 1292.9 891.4 1293.5 895.4 C1294.0 899.4 1295.3 909.6 1296.0 912.9 C1296.7 916.2 1298.6 921.1 1299.5 923.4 C1300.3 925.7 1302.2 931.5 1302.9 932.6 C1303.6 933.7 1304.9 932.6 1305.5 932.6 C1306.0 932.6 1307.4 932.4 1308.0 932.4 C1308.6 932.4 1310.0 932.6 1310.5 932.8 C1311.1 932.9 1312.5 933.7 1313.1 933.4 C1313.7 933.1 1315.3 931.1 1316.0 930.5 C1316.6 929.9 1318.2 928.6 1318.8 928.0 C1319.5 927.3 1321.1 925.4 1321.7 924.9 C1322.3 924.4 1323.7 924.0 1324.3 923.6 C1324.9 923.3 1326.2 922.3 1326.8 921.9 C1327.4 921.6 1328.6 924.7 1329.4 920.6 C1330.2 916.5 1332.9 893.0 1333.7 887.1 C1334.5 881.2 1335.7 873.7 1336.3 869.8 C1336.9 865.9 1338.1 852.7 1338.9 853.7 C1339.7 854.7 1342.2 871.1 1343.1 878.6 C1344.0 886.1 1345.8 912.8 1346.6 918.0 C1347.4 923.2 1348.9 921.8 1349.6 923.0 C1350.3 924.2 1351.9 927.7 1352.6 928.3 C1353.3 928.9 1354.6 928.0 1355.2 928.0 C1355.8 927.9 1357.1 927.6 1357.8 927.6 C1358.4 927.7 1359.7 928.3 1360.3 928.4 C1360.9 928.5 1362.1 928.6 1362.9 928.3 C1363.7 928.0 1366.3 925.9 1367.1 925.7 C1367.9 925.5 1369.1 926.2 1369.7 926.6 C1370.3 927.0 1371.7 928.7 1372.3 929.2 C1372.9 929.7 1374.2 930.4 1374.8 930.6 C1375.4 930.9 1376.8 930.8 1377.4 931.1 C1378.0 931.5 1379.4 932.7 1380.0 933.4 C1380.6 934.1 1382.0 936.1 1382.6 936.8 C1383.2 937.5 1384.5 938.7 1385.1 939.4 C1385.7 940.1 1387.1 942.8 1387.7 942.9 C1388.3 943.0 1389.7 940.8 1390.3 940.2 C1390.9 939.6 1392.2 937.7 1392.9 937.7 C1393.6 937.7 1395.2 939.6 1395.9 940.1 C1396.6 940.6 1398.3 941.9 1398.9 942.0 C1399.5 942.1 1400.9 941.1 1401.5 940.8 C1402.0 940.5 1403.4 939.7 1404.0 939.3 C1404.6 938.9 1406.0 937.8 1406.5 937.3 C1407.1 936.8 1408.5 935.4 1409.1 935.1 C1409.7 934.8 1411.3 935.0 1412.0 935.1 C1412.6 935.3 1414.2 936.2 1414.8 936.4 C1415.5 936.6 1417.0 937.4 1417.7 936.9 C1418.4 936.4 1420.3 933.3 1421.2 932.3 C1422.0 931.3 1423.8 928.7 1424.6 928.3 C1425.4 927.9 1427.2 928.6 1428.0 929.0 C1428.8 929.4 1430.7 931.2 1431.4 931.7 C1432.1 932.2 1433.6 933.1 1434.3 933.5 C1434.9 933.9 1436.5 934.7 1437.1 935.1 C1437.8 935.5 1439.3 936.7 1440.0 936.9 C1440.7 937.1 1442.2 937.2 1442.9 937.0 C1443.5 936.9 1445.1 935.6 1445.7 935.3 C1446.4 935.1 1447.9 935.3 1448.6 935.1 C1449.3 934.9 1450.9 934.2 1451.6 933.7 C1452.3 933.2 1454.0 930.9 1454.6 930.9 C1455.2 930.9 1456.6 933.2 1457.2 933.9 C1457.7 934.6 1459.1 937.1 1459.7 936.9 C1460.3 936.7 1462.0 932.8 1462.7 931.8 C1463.4 930.8 1465.0 929.3 1465.7 928.3 C1466.4 927.3 1467.9 924.8 1468.6 923.6 C1469.2 922.4 1470.8 918.9 1471.4 917.6 C1472.1 916.4 1473.6 915.4 1474.3 912.9 C1475.0 910.4 1476.9 899.8 1477.8 895.8 C1478.6 891.8 1480.5 882.8 1481.2 878.6 C1481.9 874.4 1483.2 864.1 1483.8 859.7 C1484.4 855.4 1485.7 845.7 1486.3 841.6 C1486.9 837.5 1488.1 824.3 1488.9 824.6 C1489.7 824.9 1492.3 837.0 1493.2 844.3 C1494.1 851.6 1495.8 879.1 1496.6 887.1 C1497.4 895.1 1499.2 908.7 1500.0 912.9 C1500.8 917.1 1502.6 920.9 1503.5 923.1 C1504.3 925.3 1506.2 930.6 1506.9 931.7 C1507.6 932.8 1509.1 932.0 1509.7 932.2 C1510.4 932.5 1511.9 933.4 1512.6 933.9 C1513.2 934.3 1514.8 936.1 1515.4 936.0 C1516.0 935.9 1517.4 933.7 1518.0 933.2 C1518.6 932.7 1519.9 931.5 1520.6 931.7 C1521.3 931.9 1522.9 933.8 1523.6 934.7 C1524.3 935.6 1526.0 939.3 1526.6 939.4 C1527.2 939.5 1528.6 936.4 1529.2 935.5 C1529.8 934.5 1531.1 932.4 1531.7 931.3 C1532.3 930.1 1533.5 924.8 1534.3 925.7 C1535.1 926.6 1537.8 937.1 1538.6 938.6 C1539.4 940.1 1540.8 939.0 1541.5 938.9 C1542.2 938.9 1543.7 938.4 1544.4 938.5 C1545.1 938.6 1546.6 939.5 1547.3 939.5 C1548.0 939.6 1549.5 939.0 1550.2 938.8 C1550.9 938.6 1552.4 938.1 1553.1 938.1 C1553.8 938.1 1555.3 939.2 1556.0 938.9 C1556.7 938.6 1558.2 936.4 1558.8 935.5 C1559.5 934.7 1561.0 931.4 1561.7 931.4 C1562.4 931.4 1564.3 934.4 1565.2 935.4 C1566.0 936.4 1567.9 940.3 1568.6 940.0 C1569.3 939.7 1570.8 934.3 1571.4 932.7 C1572.1 931.1 1573.6 927.8 1574.3 926.3 C1575.0 924.8 1576.7 921.1 1577.4 919.6 C1578.2 918.2 1579.9 913.7 1580.6 913.7 C1581.3 913.7 1582.6 918.3 1583.2 919.8 C1583.7 921.2 1585.1 924.6 1585.7 926.3 C1586.3 928.0 1587.4 933.2 1588.0 934.3 C1588.6 935.4 1590.0 935.1 1590.7 935.6 C1591.3 936.0 1592.7 937.8 1593.3 938.3 C1594.0 938.8 1595.4 939.9 1596.0 940.0 C1596.6 940.1 1598.2 939.6 1598.8 939.3 C1599.5 938.9 1601.0 937.2 1601.7 937.1 C1602.4 937.0 1603.9 938.1 1604.6 938.4 C1605.2 938.7 1606.7 940.0 1607.4 939.4 C1608.1 938.8 1609.6 934.3 1610.2 933.0 C1610.9 931.8 1612.5 929.0 1613.1 928.6 C1613.7 928.2 1615.1 929.4 1615.8 929.3 C1616.4 929.3 1617.8 928.3 1618.4 928.4 C1619.1 928.4 1620.3 931.7 1621.1 929.7 C1621.9 927.7 1624.6 913.8 1625.7 911.4 C1626.8 909.0 1629.2 908.4 1630.3 909.1 C1631.4 909.8 1634.0 914.6 1634.9 917.1 C1635.8 919.6 1637.4 928.6 1638.3 930.9 C1639.2 933.2 1642.0 936.2 1642.9 936.6 C1643.8 937.0 1645.1 934.6 1645.8 934.0 C1646.4 933.4 1647.9 931.1 1648.6 931.4 C1649.3 931.7 1650.8 935.4 1651.4 936.4 C1652.1 937.4 1653.6 939.6 1654.3 940.0 C1655.0 940.4 1656.9 940.1 1657.7 940.1 C1658.5 940.0 1660.3 939.1 1661.1 939.4 C1661.9 939.7 1663.7 941.7 1664.5 942.2 C1665.4 942.7 1667.3 943.1 1668.0 943.4 C1668.7 943.7 1670.2 944.8 1670.8 945.1 C1671.5 945.3 1673.0 946.4 1673.7 945.7 C1674.4 945.0 1676.4 939.7 1677.1 938.9 C1677.8 938.1 1679.3 938.5 1680.0 938.4 C1680.6 938.4 1682.2 938.1 1682.8 938.2 C1683.5 938.2 1685.1 938.7 1685.7 938.8 C1686.4 938.9 1688.0 938.9 1688.6 938.9 C1689.2 938.9 1690.5 939.1 1691.1 938.9 C1691.7 938.8 1693.1 937.9 1693.7 937.7 C1694.3 937.6 1695.6 937.6 1696.2 937.6 C1696.8 937.6 1698.1 938.2 1698.7 938.1 C1699.3 938.0 1700.7 937.1 1701.3 937.0 C1701.9 936.9 1703.2 937.2 1703.8 937.2 C1704.4 937.1 1705.7 936.7 1706.3 936.7 C1706.9 936.7 1708.3 937.3 1708.9 937.2 C1709.5 937.1 1710.7 936.1 1711.4 936.0 C1712.1 935.9 1714.0 936.2 1714.8 936.5 C1715.7 936.8 1717.4 939.2 1718.3 938.9 C1719.2 938.6 1722.0 934.8 1722.9 934.3 C1723.8 933.8 1725.5 934.1 1726.3 934.2 C1727.1 934.4 1729.3 935.3 1729.7 935.4" fill="none" stroke="#0000ff" stroke-width="2.6" stroke-linejoin="round" stroke-linecap="round"/>
<path d="M163.4 1057.1 L165.6 1057.3 L167.7 1056.6 L169.8 1057.2 L172.0 1055.4 L174.2 1058.0 L176.3 1058.0 L178.4 1057.1 L180.6 1056.4 L182.6 1055.4 L184.6 1057.6 L186.6 1057.3 L188.6 1057.6 L190.6 1061.2 L192.6 1059.8 L194.7 1061.8 L196.8 1057.4 L199.0 1060.7 L201.1 1058.9 L203.2 1057.7 L205.2 1055.0 L207.3 1052.9 L209.3 1053.0 L211.4 1050.6 L213.7 1050.9 L216.0 1052.3 L218.3 1052.0 L220.4 1053.5 L222.4 1052.0 L224.5 1055.6 L226.5 1057.4 L228.6 1056.1 L230.7 1058.0 L232.8 1056.3 L235.0 1053.7 L237.1 1055.6 L239.1 1054.3 L241.1 1055.7 L243.1 1060.1 L245.1 1058.1 L247.1 1059.2 L249.1 1060.6 L251.2 1062.8 L253.4 1060.7 L255.5 1062.2 L257.7 1062.5 L260.3 1059.5 L262.9 1057.1 L265.2 1055.2 L267.4 1057.6 L269.7 1057.2 L272.3 1055.7 L274.9 1051.1 L277.2 1050.8 L279.4 1052.3 L281.7 1054.7 L283.9 1055.6 L286.0 1055.2 L288.1 1058.5 L290.3 1059.8 L292.4 1060.6 L294.6 1059.4 L296.8 1058.3 L298.9 1057.7 L301.2 1059.4 L303.4 1056.6 L305.7 1058.3 L307.9 1056.0 L310.0 1052.5 L312.1 1050.8 L314.3 1047.7 L316.6 1045.9 L318.8 1048.6 L321.1 1047.3 L323.2 1046.2 L325.4 1047.3 L327.6 1050.9 L329.7 1050.3 L331.7 1053.1 L333.7 1051.7 L335.7 1052.5 L337.7 1052.6 L339.7 1053.6 L341.7 1055.4 L343.7 1056.5 L345.7 1055.3 L347.7 1055.6 L349.7 1057.7 L351.7 1057.1 L353.7 1059.2 L355.7 1059.7 L357.7 1060.4 L359.7 1060.1 L361.7 1058.6 L363.7 1057.9 L365.7 1058.5 L367.9 1059.1 L370.1 1058.2 L372.3 1062.2 L374.5 1061.4 L376.7 1062.3 L378.9 1062.1 L381.1 1064.9 L383.4 1064.4 L385.7 1064.7 L388.0 1063.5 L390.3 1065.3 L392.6 1064.2 L394.9 1063.1 L396.9 1060.9 L398.9 1061.1 L400.9 1061.7 L402.9 1058.9 L404.9 1058.2 L406.9 1056.7 L409.2 1054.8 L411.5 1056.8 L413.8 1056.7 L416.0 1056.5 L418.3 1056.7 L420.6 1057.1 L422.7 1057.9 L424.7 1058.1 L426.8 1058.3 L428.8 1057.3 L430.9 1059.0 L433.0 1061.7 L435.0 1059.7 L437.1 1058.5 L439.1 1058.8 L441.2 1061.4 L443.4 1061.6 L445.5 1059.6 L447.7 1059.8 L449.8 1059.9 L452.0 1061.5 L454.1 1064.0 L456.3 1061.8 L458.4 1061.8 L460.6 1062.0 L462.7 1061.1 L464.8 1060.7 L466.9 1059.9 L469.0 1060.4 L471.0 1060.6 L473.1 1059.1 L475.2 1057.2 L477.3 1057.6 L479.4 1056.3 L481.4 1058.3 L483.4 1055.2 L485.4 1055.8 L487.4 1057.7 L489.4 1058.3 L491.4 1057.7 L494.0 1057.4 L496.6 1055.8 L498.7 1057.0 L500.9 1058.9 L503.0 1058.2 L505.1 1059.1 L507.1 1059.7 L509.1 1059.6 L511.1 1056.4 L513.1 1057.5 L515.1 1056.1 L517.1 1054.3 L519.1 1055.6 L521.1 1051.4 L523.1 1054.8 L525.1 1053.7 L527.1 1054.2 L529.1 1051.7 L531.1 1050.4 L533.1 1043.9 L535.1 1041.4 L537.1 1043.9 L539.1 1043.3 L541.1 1046.6 L543.2 1049.6 L545.4 1053.6 L547.6 1053.0 L549.7 1056.9 L551.8 1057.6 L553.8 1057.8 L555.9 1059.6 L557.9 1061.1 L560.0 1063.7 L562.1 1061.6 L564.1 1065.2 L566.2 1064.4 L568.2 1062.2 L570.3 1062.0 L572.8 1054.5 L575.4 1044.9 L579.2 1014.9 L583.1 1041.4 L585.2 1050.0 L587.4 1056.9 L589.7 1057.0 L592.0 1056.6 L594.3 1056.9 L596.4 1056.2 L598.4 1054.4 L600.5 1051.7 L602.5 1050.8 L604.6 1050.0 L606.7 1050.6 L608.7 1050.6 L610.8 1048.7 L612.8 1050.5 L614.9 1050.0 L617.0 1052.7 L619.0 1053.7 L621.1 1053.7 L623.1 1052.2 L625.2 1055.1 L627.6 1054.9 L630.0 1053.7 L632.3 1053.7 L634.7 1054.7 L637.1 1056.0 L639.2 1056.2 L641.2 1057.8 L643.3 1057.6 L645.3 1056.4 L647.4 1058.6 L649.5 1058.1 L651.5 1058.4 L653.6 1057.7 L655.6 1058.8 L657.7 1059.4 L659.8 1058.2 L661.9 1059.4 L664.0 1057.9 L666.1 1057.3 L668.2 1056.9 L670.3 1056.4 L672.4 1056.9 L674.5 1056.5 L676.6 1055.1 L678.6 1056.7 L680.7 1055.2 L682.8 1057.2 L684.8 1058.2 L686.9 1058.6 L688.9 1057.6 L691.0 1055.0 L693.0 1058.7 L695.1 1058.9 L697.1 1057.7 L699.1 1055.6 L701.1 1056.9 L703.1 1056.9 L705.1 1058.8 L707.1 1058.2 L709.2 1056.7 L711.2 1056.3 L713.2 1056.2 L715.2 1055.9 L717.2 1059.0 L719.2 1059.6 L721.2 1057.7 L723.2 1055.6 L725.3 1057.1 L727.3 1057.1 L729.4 1052.9 L731.4 1053.4 L734.2 1051.6 L737.1 1049.1 L739.1 1048.8 L741.1 1051.2 L743.1 1050.7 L745.1 1047.0 L747.1 1047.8 L749.1 1049.1 L751.2 1051.7 L753.4 1051.6 L755.6 1052.4 L757.7 1053.4 L759.9 1056.1 L762.0 1057.2 L764.1 1059.3 L766.3 1058.6 L768.4 1058.0 L770.4 1057.0 L772.5 1060.0 L774.5 1057.4 L776.6 1059.5 L779.2 1057.3 L781.7 1054.6 L783.7 1056.4 L785.7 1054.6 L787.7 1055.7 L789.7 1054.1 L791.7 1054.3 L793.7 1056.0 L796.0 1055.4 L798.3 1055.4 L800.6 1052.7 L802.9 1057.4 L805.1 1055.7 L807.4 1060.3 L809.5 1062.2 L811.5 1060.5 L813.6 1059.9 L815.6 1060.2 L817.7 1060.7 L819.9 1060.3 L822.0 1058.6 L824.1 1057.0 L826.3 1057.8 L828.4 1058.1 L830.5 1056.1 L832.6 1054.4 L834.6 1053.6 L836.7 1053.5 L838.8 1048.7 L840.9 1048.8 L843.0 1052.1 L845.1 1052.6 L847.1 1054.2 L849.1 1052.2 L851.1 1053.3 L853.1 1053.0 L855.1 1051.9 L857.1 1053.4 L859.1 1053.5 L861.1 1052.7 L863.2 1056.5 L865.2 1053.6 L867.2 1056.0 L869.2 1055.8 L871.2 1055.3 L873.3 1056.4 L875.3 1054.8 L877.4 1052.2 L879.4 1052.0 L881.4 1051.5 L883.4 1050.1 L885.4 1050.2 L887.4 1051.4 L889.4 1054.2 L891.4 1052.3 L893.4 1050.1 L895.4 1050.4 L897.4 1052.3 L899.4 1050.8 L901.4 1049.9 L903.4 1051.0 L906.0 1053.7 L908.6 1052.4 L910.8 1049.7 L912.9 1051.4 L915.1 1050.0 L917.2 1049.6 L919.5 1050.5 L921.7 1051.4 L924.0 1054.3 L926.3 1053.6 L928.6 1055.5 L930.9 1056.7 L932.9 1057.4 L934.9 1055.7 L936.9 1056.7 L938.9 1056.8 L940.9 1053.3 L942.9 1054.3 L945.2 1054.9 L947.6 1052.5 L949.9 1050.8 L952.3 1050.1 L954.9 1051.8 L957.4 1055.1 L960.0 1055.1 L962.1 1054.5 L964.3 1053.1 L966.4 1056.9 L968.5 1053.1 L970.7 1052.9 L972.8 1055.6 L975.0 1053.7 L977.1 1054.4 L979.2 1053.6 L981.2 1055.3 L983.3 1056.5 L985.3 1054.2 L987.4 1055.0 L989.4 1056.0 L991.4 1054.0 L993.4 1053.1 L995.4 1052.0 L997.4 1048.9 L999.4 1050.3 L1001.4 1049.0 L1003.4 1051.5 L1005.4 1051.8 L1007.4 1049.4 L1009.4 1052.1 L1011.4 1051.7 L1013.7 1053.3 L1016.0 1055.5 L1018.3 1056.9 L1020.8 1056.7 L1023.2 1056.1 L1025.7 1057.5 L1027.7 1056.1 L1029.7 1057.9 L1031.7 1053.7 L1033.7 1055.8 L1035.7 1053.6 L1037.7 1052.6 L1040.0 1051.1 L1042.3 1054.8 L1044.6 1051.7 L1046.8 1055.7 L1049.1 1053.9 L1051.4 1055.0 L1053.7 1056.8 L1056.0 1055.9 L1058.2 1054.2 L1060.5 1055.3 L1062.8 1056.8 L1065.1 1054.6 L1067.2 1051.5 L1069.4 1050.1 L1071.5 1048.8 L1073.7 1048.1 L1076.0 1049.7 L1078.3 1047.3 L1080.6 1048.6 L1082.7 1048.4 L1084.8 1050.9 L1087.0 1051.6 L1089.1 1052.2 L1091.2 1051.7 L1093.2 1052.3 L1095.3 1049.9 L1097.3 1049.7 L1099.4 1051.8 L1101.7 1050.7 L1104.0 1051.7 L1106.3 1054.6 L1108.6 1055.8 L1110.9 1056.7 L1113.2 1052.9 L1115.4 1054.0 L1117.7 1052.4 L1120.0 1054.5 L1122.1 1054.5 L1124.3 1055.8 L1126.4 1056.0 L1128.5 1057.5 L1130.7 1056.3 L1132.8 1054.5 L1135.0 1056.2 L1137.1 1057.1 L1139.2 1056.5 L1141.4 1055.5 L1143.5 1053.7 L1145.7 1055.8 L1147.8 1054.8 L1150.0 1055.3 L1152.1 1053.3 L1154.3 1053.4 L1156.3 1051.6 L1158.3 1052.6 L1160.3 1052.3 L1162.3 1053.6 L1164.3 1052.3 L1166.3 1054.0 L1168.4 1051.8 L1170.4 1053.5 L1172.5 1051.6 L1174.5 1051.1 L1176.6 1052.6 L1178.6 1051.4 L1180.6 1054.4 L1182.6 1055.3 L1184.6 1055.8 L1186.6 1055.3 L1188.6 1055.4 L1190.7 1056.0 L1192.9 1056.5 L1195.0 1055.1 L1197.2 1055.4 L1199.3 1056.3 L1201.4 1056.0 L1203.6 1055.9 L1205.7 1055.4 L1207.9 1055.8 L1210.0 1055.1 L1212.2 1053.5 L1214.3 1053.7 L1216.5 1055.2 L1218.6 1053.8 L1220.8 1055.5 L1222.9 1053.7 L1225.2 1053.0 L1227.5 1054.1 L1229.8 1051.5 L1232.0 1052.2 L1234.3 1054.5 L1236.6 1052.8 L1238.7 1051.2 L1240.9 1053.1 L1243.0 1050.4 L1245.2 1052.9 L1247.3 1052.1 L1249.4 1053.9 L1251.6 1053.5 L1253.7 1052.0 L1255.8 1051.9 L1258.0 1048.7 L1260.2 1048.9 L1262.3 1046.9 L1264.4 1044.9 L1266.5 1045.9 L1268.6 1045.4 L1270.7 1043.6 L1272.8 1042.7 L1275.0 1040.6 L1277.1 1040.3 L1279.2 1032.4 L1281.4 1027.1 L1283.5 1021.0 L1285.7 1013.7 L1288.0 1020.0 L1290.3 1027.7 L1292.6 1031.7 L1294.9 1036.5 L1297.1 1039.3 L1299.4 1045.4 L1301.7 1046.9 L1304.0 1046.3 L1306.3 1048.0 L1308.8 1053.8 L1311.4 1055.7 L1313.6 1053.6 L1315.7 1054.7 L1317.8 1055.2 L1320.0 1054.0 L1322.5 1049.2 L1325.1 1040.3 L1327.7 1036.9 L1330.3 1033.4 L1332.8 1018.3 L1335.4 1004.3 L1337.6 999.5 L1339.7 992.3 L1341.8 1003.9 L1344.0 1012.9 L1346.5 1025.8 L1349.1 1035.1 L1351.4 1041.2 L1353.7 1043.8 L1356.0 1050.6 L1359.4 1057.4 L1361.7 1057.8 L1364.0 1055.9 L1366.2 1052.0 L1368.5 1051.2 L1370.8 1050.3 L1373.1 1047.1 L1375.2 1050.0 L1377.2 1050.2 L1379.3 1048.4 L1381.3 1049.4 L1383.4 1052.3 L1386.9 1059.1 L1389.0 1052.1 L1391.1 1046.3 L1394.6 1064.3 L1396.9 1059.8 L1399.1 1054.9 L1401.4 1051.4 L1404.0 1055.1 L1406.6 1057.7 L1409.2 1059.1 L1411.2 1058.4 L1413.2 1059.4 L1415.2 1056.9 L1417.2 1060.0 L1419.2 1056.5 L1421.2 1057.4 L1423.2 1055.5 L1425.3 1056.2 L1427.3 1058.0 L1429.4 1056.5 L1431.4 1055.7 L1433.7 1055.5 L1436.0 1055.1 L1438.3 1052.2 L1440.6 1053.7 L1442.9 1052.8 L1445.2 1049.7 L1447.3 1051.6 L1449.5 1054.2 L1451.6 1056.4 L1453.7 1056.6 L1455.8 1056.5 L1457.8 1053.9 L1459.9 1055.7 L1461.9 1054.3 L1464.0 1054.0 L1466.2 1053.6 L1468.3 1048.9 L1470.4 1046.1 L1472.6 1046.3 L1474.9 1036.6 L1477.1 1028.3 L1479.4 1021.4 L1482.0 1012.3 L1484.6 1003.0 L1487.2 995.7 L1489.2 999.5 L1491.2 1005.2 L1493.2 1009.4 L1495.8 1020.7 L1498.3 1035.1 L1500.5 1038.5 L1502.6 1041.4 L1504.8 1043.3 L1506.9 1048.9 L1508.9 1050.7 L1511.0 1050.9 L1513.0 1053.2 L1515.1 1054.6 L1517.1 1054.0 L1519.2 1052.7 L1521.4 1056.2 L1523.5 1055.8 L1525.7 1056.6 L1527.7 1057.8 L1529.7 1054.0 L1531.7 1056.8 L1533.7 1054.6 L1535.7 1052.6 L1537.7 1054.0 L1540.0 1052.6 L1542.3 1053.2 L1544.6 1050.3 L1546.9 1048.4 L1549.2 1049.8 L1551.4 1048.5 L1553.7 1048.1 L1556.0 1050.3 L1558.3 1054.5 L1560.6 1055.7 L1562.9 1055.9 L1565.2 1055.9 L1567.4 1057.2 L1569.7 1053.5 L1572.0 1057.2 L1574.3 1055.2 L1576.4 1056.4 L1578.5 1056.9 L1580.6 1056.8 L1582.8 1055.0 L1584.9 1053.5 L1587.0 1057.9 L1589.1 1055.8 L1592.0 1057.5 L1594.9 1058.0 L1597.2 1058.9 L1599.5 1058.8 L1601.7 1056.9 L1604.0 1058.5 L1606.3 1057.7 L1608.4 1056.4 L1610.5 1054.4 L1612.6 1054.5 L1614.7 1053.4 L1616.8 1051.6 L1618.9 1051.4 L1621.8 1045.6 L1624.6 1037.7 L1627.4 1039.2 L1630.3 1037.1 L1632.3 1038.8 L1634.3 1037.6 L1636.3 1041.2 L1638.3 1042.3 L1640.6 1045.7 L1642.9 1048.0 L1645.2 1049.4 L1647.5 1047.1 L1649.7 1046.8 L1652.0 1047.4 L1654.3 1048.0 L1656.6 1046.4 L1658.9 1049.0 L1661.1 1045.6 L1663.4 1047.8 L1665.7 1047.4 L1668.0 1049.9 L1670.3 1047.4 L1672.5 1049.0 L1674.8 1053.7 L1677.1 1052.6 L1679.2 1052.1 L1681.3 1054.4 L1683.3 1051.5 L1685.4 1053.7 L1687.5 1052.1 L1689.6 1053.3 L1691.7 1052.6 L1693.8 1055.9 L1695.8 1055.2 L1697.9 1055.0 L1700.0 1056.0 L1702.0 1055.8 L1704.1 1057.1 L1706.1 1055.4 L1708.2 1055.1 L1710.2 1054.8 L1712.3 1057.7 L1714.3 1057.9 L1716.3 1056.2 L1718.4 1057.5 L1720.4 1059.7 L1722.5 1057.7 L1724.5 1059.1 L1726.6 1057.5 L1728.6 1058.3" fill="none" stroke="#ff0000" stroke-width="2.5" stroke-linejoin="round" stroke-linecap="round"/>
<path d="M164.6 1180.0 C165.0 1179.8 167.5 1178.8 168.4 1178.4 C169.3 1178.1 171.3 1177.4 172.2 1177.0 C173.1 1176.7 175.2 1175.0 176.0 1175.4 C176.8 1175.8 178.6 1179.1 179.4 1180.1 C180.2 1181.1 182.1 1182.8 182.9 1183.8 C183.7 1184.7 185.5 1187.6 186.3 1188.0 C187.1 1188.4 188.9 1187.4 189.7 1187.2 C190.5 1187.1 192.4 1186.8 193.2 1186.6 C194.0 1186.4 195.8 1186.1 196.6 1185.7 C197.4 1185.3 198.9 1183.9 199.6 1183.4 C200.3 1183.0 202.0 1182.3 202.7 1181.9 C203.4 1181.5 205.0 1180.1 205.7 1180.0 C206.4 1179.9 208.1 1180.7 208.8 1180.9 C209.5 1181.1 211.1 1181.7 211.8 1181.9 C212.5 1182.0 214.1 1182.1 214.9 1182.3 C215.7 1182.5 217.5 1183.1 218.3 1183.5 C219.1 1183.9 221.0 1185.1 221.8 1185.5 C222.5 1185.9 224.4 1186.5 225.2 1186.9 C226.0 1187.3 227.8 1188.9 228.6 1189.1 C229.4 1189.3 231.2 1188.8 232.0 1188.6 C232.8 1188.5 234.7 1187.9 235.4 1187.6 C236.2 1187.3 238.1 1186.2 238.9 1186.0 C239.7 1185.8 241.5 1185.8 242.3 1185.7 C243.1 1185.6 244.6 1185.6 245.3 1185.5 C246.0 1185.4 247.7 1185.0 248.4 1184.7 C249.1 1184.5 250.7 1183.4 251.4 1183.4 C252.1 1183.4 253.8 1184.7 254.5 1185.1 C255.2 1185.5 256.8 1186.3 257.5 1186.6 C258.2 1186.9 259.9 1188.1 260.6 1188.0 C261.3 1187.9 262.9 1186.5 263.6 1186.1 C264.3 1185.6 266.0 1184.7 266.7 1184.4 C267.4 1184.0 268.9 1183.4 269.7 1183.4 C270.5 1183.4 272.3 1184.0 273.1 1184.1 C273.9 1184.2 275.8 1184.2 276.6 1184.3 C277.4 1184.4 279.2 1184.9 280.0 1185.1 C280.8 1185.3 282.7 1185.7 283.5 1185.9 C284.3 1186.1 286.0 1187.3 286.9 1186.9 C287.8 1186.5 290.0 1183.3 290.9 1182.3 C291.8 1181.4 294.0 1179.3 294.9 1178.9 C295.8 1178.5 297.8 1178.9 298.7 1178.9 C299.6 1178.8 301.6 1178.8 302.5 1178.8 C303.4 1178.8 305.5 1178.6 306.3 1178.9 C307.1 1179.2 308.9 1180.6 309.7 1181.0 C310.5 1181.4 312.4 1182.0 313.1 1182.3 C313.9 1182.7 315.8 1183.8 316.6 1184.2 C317.4 1184.6 319.2 1185.5 320.0 1185.7 C320.8 1185.9 322.3 1186.0 323.0 1186.1 C323.7 1186.2 325.4 1186.6 326.1 1186.7 C326.8 1186.8 328.4 1187.0 329.1 1186.9 C329.8 1186.8 331.6 1186.3 332.3 1186.1 C333.0 1186.0 334.8 1185.3 335.5 1185.2 C336.2 1185.1 338.0 1185.5 338.7 1185.4 C339.4 1185.3 341.2 1184.9 341.9 1184.7 C342.6 1184.5 344.3 1183.8 345.1 1183.4 C345.9 1183.0 348.0 1182.0 348.9 1181.5 C349.8 1181.0 351.9 1179.7 352.8 1179.1 C353.7 1178.5 355.7 1177.0 356.6 1176.6 C357.5 1176.2 359.5 1175.8 360.4 1175.6 C361.3 1175.4 363.3 1174.9 364.2 1174.7 C365.1 1174.6 367.1 1174.3 368.0 1174.3 C368.9 1174.3 370.9 1174.7 371.8 1174.8 C372.7 1174.9 374.7 1175.1 375.6 1175.3 C376.5 1175.5 378.6 1176.3 379.4 1176.6 C380.2 1176.9 381.7 1177.7 382.4 1177.9 C383.2 1178.1 384.8 1178.1 385.5 1178.4 C386.2 1178.6 387.8 1179.6 388.5 1179.9 C389.3 1180.1 390.9 1180.0 391.6 1180.3 C392.3 1180.5 393.9 1181.7 394.6 1181.9 C395.4 1182.1 396.9 1182.2 397.7 1182.3 C398.5 1182.4 400.3 1183.1 401.1 1183.1 C401.9 1183.1 403.8 1182.5 404.6 1182.5 C405.4 1182.5 407.2 1182.9 408.0 1183.1 C408.8 1183.3 410.6 1184.2 411.4 1184.3 C412.2 1184.5 414.1 1184.1 414.9 1184.2 C415.7 1184.2 417.5 1184.5 418.3 1184.6 C419.1 1184.7 420.8 1185.0 421.5 1184.9 C422.2 1184.9 424.0 1184.2 424.7 1184.0 C425.4 1183.8 427.2 1183.4 427.9 1183.4 C428.6 1183.3 430.4 1183.8 431.1 1183.8 C431.8 1183.8 433.5 1183.5 434.3 1183.4 C435.1 1183.3 436.8 1183.4 437.6 1183.2 C438.3 1183.1 440.1 1182.4 440.8 1182.2 C441.6 1181.9 443.3 1181.6 444.1 1181.4 C444.8 1181.3 446.6 1181.2 447.3 1181.3 C448.1 1181.3 449.8 1181.6 450.6 1181.5 C451.3 1181.5 453.1 1181.0 453.8 1180.8 C454.6 1180.6 456.3 1180.2 457.1 1180.0 C457.9 1179.8 459.6 1179.2 460.4 1179.1 C461.1 1178.9 462.9 1178.8 463.6 1178.7 C464.4 1178.6 466.2 1178.2 466.9 1178.1 C467.7 1177.9 469.4 1177.5 470.2 1177.5 C470.9 1177.5 472.7 1178.0 473.5 1177.9 C474.2 1177.8 476.0 1176.9 476.7 1176.7 C477.5 1176.5 479.3 1176.6 480.0 1176.6 C480.7 1176.6 482.4 1176.4 483.1 1176.4 C483.8 1176.3 485.5 1176.0 486.2 1175.9 C487.0 1175.8 488.6 1175.3 489.4 1175.3 C490.1 1175.2 491.7 1175.7 492.5 1175.6 C493.2 1175.5 494.9 1174.7 495.6 1174.6 C496.3 1174.5 498.0 1174.9 498.7 1174.9 C499.4 1174.8 501.1 1174.0 501.8 1173.9 C502.6 1173.8 504.2 1174.0 504.9 1174.0 C505.7 1173.9 507.3 1173.5 508.1 1173.4 C508.8 1173.3 510.5 1173.2 511.2 1173.1 C511.9 1173.1 513.6 1173.0 514.3 1173.1 C515.0 1173.2 516.8 1173.6 517.5 1173.6 C518.3 1173.6 520.0 1173.4 520.7 1173.3 C521.5 1173.2 523.2 1172.7 523.9 1172.7 C524.7 1172.7 526.4 1173.3 527.1 1173.3 C527.9 1173.3 529.6 1172.5 530.4 1172.4 C531.1 1172.4 532.8 1172.5 533.6 1172.6 C534.3 1172.7 536.0 1173.1 536.8 1173.1 C537.5 1173.1 539.3 1172.7 540.0 1172.6 C540.7 1172.5 542.5 1172.3 543.2 1172.1 C543.9 1171.9 545.7 1170.8 546.4 1170.7 C547.1 1170.6 548.9 1171.2 549.6 1171.1 C550.3 1170.9 552.1 1169.7 552.8 1169.5 C553.5 1169.2 555.2 1169.2 556.0 1169.1 C556.8 1169.0 558.5 1168.6 559.3 1168.6 C560.1 1168.5 561.8 1169.0 562.6 1168.9 C563.4 1168.9 565.1 1168.3 565.9 1168.2 C566.7 1168.0 568.4 1168.0 569.2 1167.9 C570.0 1167.8 571.7 1167.5 572.5 1167.4 C573.3 1167.3 575.0 1167.1 575.8 1167.1 C576.6 1167.2 578.3 1167.5 579.1 1167.5 C579.9 1167.5 581.6 1166.9 582.4 1166.8 C583.2 1166.8 584.9 1166.9 585.7 1166.9 C586.5 1166.9 588.1 1167.1 588.8 1167.1 C589.6 1167.1 591.3 1166.9 592.0 1166.9 C592.7 1166.9 594.4 1167.0 595.1 1167.1 C595.9 1167.1 597.5 1167.7 598.3 1167.7 C599.0 1167.7 600.7 1167.3 601.4 1167.2 C602.2 1167.2 603.8 1167.3 604.6 1167.4 C605.3 1167.5 607.0 1167.9 607.7 1167.8 C608.4 1167.8 610.1 1167.2 610.9 1167.1 C611.6 1167.0 613.3 1167.0 614.0 1167.1 C614.7 1167.2 616.4 1168.0 617.1 1168.1 C617.9 1168.2 619.5 1168.1 620.3 1168.0 C621.0 1168.0 622.7 1167.5 623.4 1167.4 C624.2 1167.4 625.8 1167.3 626.6 1167.4 C627.3 1167.5 629.0 1168.0 629.7 1168.1 C630.4 1168.3 632.1 1168.5 632.9 1168.5 C633.6 1168.4 635.3 1168.0 636.0 1168.0 C636.7 1168.0 638.5 1167.9 639.2 1168.0 C639.9 1168.2 641.7 1169.2 642.4 1169.4 C643.1 1169.6 644.9 1169.6 645.6 1169.7 C646.3 1169.7 648.1 1169.7 648.8 1169.8 C649.5 1169.8 651.3 1169.9 652.0 1170.0 C652.7 1170.0 654.5 1169.9 655.2 1170.0 C655.9 1170.0 657.7 1170.1 658.4 1170.3 C659.1 1170.5 660.9 1171.7 661.6 1171.8 C662.3 1172.0 664.1 1171.3 664.8 1171.4 C665.5 1171.4 667.3 1172.0 668.0 1172.1 C668.7 1172.2 670.5 1172.6 671.2 1172.6 C671.9 1172.7 673.7 1172.3 674.4 1172.4 C675.1 1172.5 676.9 1173.2 677.6 1173.3 C678.3 1173.4 680.1 1173.3 680.8 1173.3 C681.5 1173.3 683.3 1173.2 684.0 1173.3 C684.7 1173.3 686.5 1173.3 687.2 1173.4 C687.9 1173.5 689.7 1174.3 690.4 1174.3 C691.1 1174.4 692.9 1173.8 693.6 1173.8 C694.3 1173.8 696.1 1174.2 696.8 1174.3 C697.5 1174.4 699.2 1174.7 700.0 1174.9 C700.8 1175.1 702.6 1175.9 703.4 1176.3 C704.2 1176.7 706.1 1177.7 706.9 1178.0 C707.7 1178.3 709.5 1178.8 710.3 1179.0 C711.1 1179.3 712.9 1179.6 713.7 1180.0 C714.5 1180.3 716.4 1181.7 717.2 1182.1 C718.0 1182.4 719.8 1182.8 720.6 1182.9 C721.4 1183.0 723.1 1183.1 723.9 1183.2 C724.6 1183.3 726.4 1183.4 727.1 1183.6 C727.9 1183.8 729.6 1184.3 730.4 1184.6 C731.1 1184.8 732.9 1185.3 733.6 1185.4 C734.4 1185.5 736.1 1185.5 736.9 1185.6 C737.6 1185.7 739.4 1186.2 740.1 1186.4 C740.9 1186.6 742.6 1187.4 743.4 1187.4 C744.2 1187.4 746.3 1186.4 747.2 1186.1 C748.1 1185.9 750.2 1185.5 751.1 1185.2 C752.0 1185.0 754.1 1184.2 754.9 1184.0 C755.7 1183.8 757.5 1183.3 758.3 1183.2 C759.1 1183.1 760.9 1183.1 761.7 1183.1 C762.5 1183.1 764.4 1183.3 765.1 1183.3 C765.9 1183.3 767.8 1183.2 768.6 1183.0 C769.4 1182.9 771.2 1182.4 772.0 1182.3 C772.8 1182.1 774.6 1181.7 775.4 1181.7 C776.2 1181.7 778.0 1182.5 778.8 1182.7 C779.6 1182.9 781.5 1183.2 782.3 1183.3 C783.1 1183.4 784.9 1183.5 785.7 1183.6 C786.5 1183.7 788.3 1184.0 789.1 1184.2 C789.9 1184.4 791.8 1184.7 792.6 1185.0 C793.4 1185.2 795.2 1186.1 796.0 1186.3 C796.8 1186.5 798.3 1186.8 799.0 1186.8 C799.8 1186.8 801.4 1186.5 802.1 1186.5 C802.8 1186.5 804.4 1187.0 805.1 1186.9 C805.9 1186.8 807.5 1185.8 808.2 1185.7 C808.9 1185.7 810.5 1186.4 811.2 1186.5 C812.0 1186.5 813.5 1186.4 814.3 1186.3 C815.1 1186.2 817.2 1185.7 818.1 1185.5 C819.0 1185.4 821.0 1185.2 821.9 1185.0 C822.8 1184.9 824.9 1184.2 825.7 1184.0 C826.5 1183.8 828.1 1183.6 828.9 1183.6 C829.6 1183.6 831.3 1184.3 832.0 1184.2 C832.8 1184.2 834.5 1183.1 835.2 1183.0 C835.9 1182.9 837.6 1183.3 838.4 1183.3 C839.1 1183.4 840.8 1183.4 841.5 1183.4 C842.3 1183.4 844.0 1183.5 844.7 1183.4 C845.5 1183.4 847.1 1183.1 847.9 1183.0 C848.6 1183.0 850.3 1182.9 851.1 1182.8 C851.8 1182.8 853.5 1182.8 854.2 1182.8 C855.0 1182.7 856.7 1182.8 857.4 1182.7 C858.1 1182.6 859.8 1181.9 860.6 1181.9 C861.3 1181.8 863.0 1182.1 863.7 1182.1 C864.5 1182.1 866.1 1181.7 866.9 1181.7 C867.7 1181.7 869.8 1181.8 870.7 1181.8 C871.6 1181.8 873.6 1181.6 874.5 1181.4 C875.4 1181.3 877.5 1180.4 878.3 1180.6 C879.1 1180.8 880.6 1182.2 881.3 1182.8 C882.0 1183.3 883.7 1184.9 884.4 1185.5 C885.1 1186.0 886.7 1187.2 887.4 1187.4 C888.1 1187.6 889.7 1187.1 890.5 1186.9 C891.2 1186.7 892.8 1185.8 893.5 1185.6 C894.2 1185.3 895.8 1184.9 896.5 1184.7 C897.3 1184.5 898.9 1183.7 899.6 1183.5 C900.3 1183.2 901.9 1183.0 902.7 1182.7 C903.4 1182.5 904.9 1181.8 905.7 1181.7 C906.5 1181.6 908.6 1182.2 909.5 1182.2 C910.4 1182.3 912.4 1181.9 913.3 1182.0 C914.2 1182.1 916.3 1182.7 917.1 1182.9 C917.9 1183.1 919.4 1183.2 920.1 1183.3 C920.8 1183.5 922.4 1183.9 923.1 1184.0 C923.8 1184.1 925.4 1184.2 926.1 1184.2 C926.8 1184.2 928.4 1184.0 929.1 1184.0 C929.8 1184.0 931.5 1184.5 932.2 1184.6 C933.0 1184.6 934.7 1184.4 935.4 1184.4 C936.1 1184.5 937.8 1185.1 938.5 1185.1 C939.3 1185.2 941.0 1185.2 941.7 1185.2 C942.4 1185.3 944.1 1185.3 944.9 1185.4 C945.6 1185.5 947.3 1186.1 948.0 1186.1 C948.7 1186.1 950.4 1185.5 951.1 1185.5 C951.9 1185.5 953.5 1186.2 954.3 1186.3 C955.1 1186.4 956.8 1186.3 957.6 1186.1 C958.4 1185.9 960.1 1184.9 960.9 1184.7 C961.7 1184.6 963.4 1184.9 964.2 1184.9 C965.0 1184.8 966.7 1184.4 967.5 1184.2 C968.3 1184.1 970.0 1183.5 970.8 1183.4 C971.6 1183.3 973.3 1183.6 974.1 1183.5 C974.9 1183.4 976.6 1182.8 977.4 1182.7 C978.2 1182.6 979.9 1182.5 980.7 1182.3 C981.5 1182.2 983.3 1181.7 984.0 1181.7 C984.7 1181.7 986.3 1182.6 987.0 1182.7 C987.8 1182.8 989.4 1182.4 990.1 1182.4 C990.8 1182.4 992.4 1182.5 993.1 1182.6 C993.8 1182.8 995.5 1183.3 996.2 1183.5 C996.9 1183.7 998.5 1184.4 999.2 1184.5 C999.9 1184.6 1001.6 1184.4 1002.3 1184.4 C1003.0 1184.5 1004.6 1184.7 1005.3 1184.9 C1006.0 1185.1 1007.6 1186.1 1008.4 1186.3 C1009.1 1186.4 1010.6 1186.2 1011.4 1186.3 C1012.2 1186.4 1014.3 1187.0 1015.2 1187.1 C1016.1 1187.2 1018.2 1187.3 1019.1 1187.4 C1020.0 1187.5 1022.1 1188.1 1022.9 1188.1 C1023.7 1188.1 1025.4 1188.0 1026.1 1187.8 C1026.8 1187.5 1028.6 1186.5 1029.3 1186.3 C1030.0 1186.0 1031.8 1186.0 1032.5 1185.8 C1033.2 1185.6 1035.0 1184.7 1035.7 1184.5 C1036.4 1184.2 1038.1 1184.1 1038.9 1184.0 C1039.7 1183.9 1041.5 1183.7 1042.3 1183.6 C1043.1 1183.6 1045.0 1183.8 1045.8 1183.8 C1046.5 1183.8 1048.4 1183.8 1049.2 1183.7 C1050.0 1183.6 1051.8 1183.1 1052.6 1182.9 C1053.4 1182.7 1055.1 1182.4 1055.8 1182.1 C1056.5 1181.8 1058.3 1180.6 1059.0 1180.3 C1059.7 1180.0 1061.5 1179.6 1062.2 1179.3 C1062.9 1179.0 1064.7 1178.0 1065.4 1177.7 C1066.1 1177.4 1067.8 1176.8 1068.6 1176.7 C1069.4 1176.6 1071.5 1176.7 1072.4 1176.8 C1073.3 1176.9 1075.3 1177.6 1076.2 1177.8 C1077.1 1177.9 1079.2 1178.0 1080.0 1178.3 C1080.8 1178.6 1082.3 1179.8 1083.0 1180.2 C1083.7 1180.6 1085.4 1181.5 1086.1 1181.8 C1086.8 1182.1 1088.3 1182.7 1089.1 1182.9 C1089.9 1183.1 1091.7 1183.6 1092.5 1183.9 C1093.4 1184.1 1095.2 1184.8 1096.0 1184.9 C1096.8 1185.0 1098.6 1184.7 1099.5 1184.8 C1100.3 1184.9 1102.1 1185.7 1102.9 1185.8 C1103.7 1185.9 1105.2 1185.4 1105.9 1185.4 C1106.7 1185.3 1108.3 1185.6 1109.0 1185.6 C1109.7 1185.7 1111.3 1185.4 1112.0 1185.4 C1112.8 1185.3 1114.4 1185.3 1115.1 1185.3 C1115.8 1185.3 1117.4 1185.4 1118.1 1185.5 C1118.8 1185.5 1120.5 1185.7 1121.2 1185.7 C1121.9 1185.7 1123.5 1185.5 1124.2 1185.5 C1124.9 1185.4 1126.6 1185.2 1127.3 1185.2 C1128.0 1185.2 1129.6 1185.7 1130.3 1185.8 C1131.0 1185.9 1132.7 1186.0 1133.4 1185.9 C1134.1 1185.8 1135.7 1185.4 1136.4 1185.2 C1137.1 1185.1 1138.7 1184.8 1139.5 1184.7 C1140.2 1184.7 1141.8 1184.5 1142.5 1184.6 C1143.2 1184.7 1144.8 1185.5 1145.6 1185.6 C1146.3 1185.6 1147.9 1185.2 1148.6 1185.1 C1149.3 1185.0 1151.1 1184.3 1151.9 1184.3 C1152.6 1184.3 1154.4 1184.9 1155.1 1184.9 C1155.9 1184.9 1157.6 1184.6 1158.4 1184.5 C1159.1 1184.4 1160.9 1184.0 1161.6 1184.0 C1162.4 1183.9 1164.1 1184.4 1164.9 1184.3 C1165.6 1184.2 1167.4 1183.2 1168.1 1183.2 C1168.9 1183.1 1170.7 1183.5 1171.4 1183.5 C1172.1 1183.5 1173.8 1183.2 1174.5 1183.2 C1175.2 1183.2 1176.9 1183.7 1177.6 1183.7 C1178.4 1183.8 1180.0 1183.3 1180.8 1183.4 C1181.5 1183.5 1183.1 1184.4 1183.9 1184.5 C1184.6 1184.5 1186.3 1184.0 1187.0 1183.9 C1187.7 1183.8 1189.4 1183.9 1190.1 1183.9 C1190.8 1183.9 1192.5 1183.9 1193.2 1184.0 C1194.0 1184.1 1195.6 1184.7 1196.3 1184.8 C1197.1 1184.9 1198.7 1184.7 1199.5 1184.7 C1200.2 1184.8 1201.9 1185.1 1202.6 1185.1 C1203.3 1185.2 1204.9 1185.1 1205.7 1185.1 C1206.5 1185.1 1208.3 1185.2 1209.1 1185.3 C1209.9 1185.3 1211.8 1185.4 1212.6 1185.5 C1213.4 1185.5 1215.2 1185.7 1216.0 1185.7 C1216.8 1185.6 1218.6 1185.4 1219.4 1185.3 C1220.2 1185.2 1222.1 1184.8 1222.9 1184.7 C1223.7 1184.7 1225.5 1185.1 1226.3 1185.1 C1227.1 1185.1 1228.6 1184.6 1229.3 1184.4 C1230.1 1184.2 1231.7 1183.7 1232.4 1183.4 C1233.1 1183.2 1234.7 1182.7 1235.4 1182.6 C1236.2 1182.5 1237.8 1182.6 1238.5 1182.5 C1239.2 1182.5 1240.8 1182.3 1241.5 1182.2 C1242.3 1182.0 1243.9 1181.4 1244.6 1181.3 C1245.3 1181.2 1247.1 1181.0 1247.9 1181.0 C1248.7 1180.9 1250.4 1181.1 1251.2 1181.1 C1252.0 1181.1 1253.7 1181.2 1254.5 1181.2 C1255.3 1181.3 1257.0 1181.7 1257.8 1181.7 C1258.6 1181.7 1260.3 1181.5 1261.1 1181.5 C1261.9 1181.5 1263.6 1181.7 1264.4 1181.7 C1265.2 1181.7 1266.9 1181.9 1267.7 1181.9 C1268.5 1181.9 1270.2 1181.6 1271.0 1181.5 C1271.8 1181.5 1273.5 1181.7 1274.3 1181.7 C1275.1 1181.7 1276.8 1181.8 1277.5 1181.8 C1278.3 1181.8 1280.0 1181.9 1280.7 1181.7 C1281.5 1181.6 1283.2 1180.5 1283.9 1180.5 C1284.7 1180.4 1286.4 1181.2 1287.2 1181.3 C1287.9 1181.3 1289.6 1180.9 1290.4 1180.8 C1291.1 1180.6 1292.8 1179.9 1293.6 1179.8 C1294.3 1179.7 1296.0 1180.0 1296.8 1180.0 C1297.5 1180.0 1299.2 1179.8 1300.0 1179.8 C1300.8 1179.8 1302.6 1179.8 1303.3 1179.8 C1304.1 1179.9 1305.9 1180.1 1306.7 1180.1 C1307.5 1180.0 1309.3 1179.4 1310.0 1179.3 C1310.8 1179.2 1312.6 1179.4 1313.4 1179.4 C1314.2 1179.5 1316.0 1179.7 1316.8 1179.7 C1317.5 1179.6 1319.3 1179.0 1320.1 1179.1 C1320.9 1179.2 1322.8 1180.3 1323.6 1180.6 C1324.4 1180.9 1326.3 1181.7 1327.1 1182.0 C1328.0 1182.2 1329.8 1182.3 1330.7 1182.5 C1331.5 1182.8 1333.4 1183.6 1334.2 1183.9 C1335.0 1184.2 1336.9 1184.8 1337.7 1184.9 C1338.5 1185.0 1340.3 1184.4 1341.0 1184.4 C1341.8 1184.4 1343.6 1184.8 1344.4 1184.9 C1345.2 1185.0 1347.0 1184.9 1347.8 1184.9 C1348.5 1184.8 1350.3 1184.6 1351.1 1184.5 C1351.9 1184.5 1353.7 1184.5 1354.5 1184.5 C1355.2 1184.4 1357.0 1184.8 1357.8 1184.1 C1358.6 1183.4 1360.2 1179.4 1360.9 1178.1 C1361.7 1176.8 1363.2 1173.4 1364.1 1172.8 C1365.0 1172.2 1367.5 1172.8 1368.5 1172.6 C1369.5 1172.5 1371.9 1171.3 1372.9 1171.5 C1373.9 1171.7 1375.8 1174.0 1376.7 1174.6 C1377.6 1175.2 1379.7 1175.8 1380.5 1176.6 C1381.3 1177.4 1382.9 1180.7 1383.6 1181.8 C1384.3 1182.9 1386.0 1185.4 1386.7 1185.9 C1387.4 1186.4 1389.0 1186.1 1389.8 1186.2 C1390.5 1186.2 1392.1 1186.7 1392.8 1186.7 C1393.5 1186.7 1395.2 1186.3 1395.9 1186.3 C1396.6 1186.4 1398.2 1187.1 1398.9 1187.2 C1399.6 1187.4 1401.3 1187.4 1402.0 1187.4 C1402.7 1187.4 1404.3 1187.0 1405.0 1187.0 C1405.8 1187.0 1407.4 1187.5 1408.1 1187.4 C1408.8 1187.3 1410.5 1186.3 1411.2 1186.1 C1412.0 1185.9 1413.7 1185.8 1414.4 1185.7 C1415.1 1185.6 1416.8 1185.2 1417.5 1185.0 C1418.3 1184.9 1420.0 1184.7 1420.7 1184.5 C1421.4 1184.3 1423.1 1183.6 1423.8 1183.3 C1424.6 1183.0 1426.3 1182.1 1427.0 1182.0 C1427.7 1181.8 1429.4 1182.2 1430.1 1182.1 C1430.9 1182.0 1432.6 1181.1 1433.3 1180.9 C1434.0 1180.7 1435.6 1180.4 1436.3 1180.5 C1437.1 1180.6 1438.7 1181.5 1439.4 1181.5 C1440.1 1181.6 1441.7 1181.0 1442.5 1180.9 C1443.2 1180.9 1444.8 1181.2 1445.5 1181.3 C1446.2 1181.4 1447.8 1182.0 1448.5 1182.0 C1449.3 1182.0 1450.9 1181.4 1451.6 1181.3 C1452.3 1181.3 1453.9 1181.4 1454.7 1181.5 C1455.4 1181.6 1457.0 1181.9 1457.7 1182.1 C1458.4 1182.2 1460.0 1182.4 1460.8 1182.5 C1461.5 1182.5 1463.1 1182.7 1463.8 1182.7 C1464.5 1182.8 1466.1 1182.7 1466.8 1182.7 C1467.6 1182.7 1469.2 1183.1 1469.9 1183.1 C1470.6 1183.2 1472.2 1182.8 1473.0 1182.7 C1473.7 1182.7 1475.3 1182.8 1476.0 1182.9 C1476.7 1183.0 1478.5 1183.9 1479.3 1183.9 C1480.0 1184.0 1481.8 1183.4 1482.5 1183.4 C1483.3 1183.4 1485.0 1183.9 1485.8 1184.1 C1486.6 1184.2 1488.3 1184.8 1489.1 1184.9 C1489.8 1185.1 1491.6 1185.0 1492.3 1185.1 C1493.1 1185.3 1494.9 1186.0 1495.6 1186.2 C1496.4 1186.3 1498.1 1186.5 1498.9 1186.6 C1499.7 1186.7 1501.4 1186.8 1502.2 1186.9 C1502.9 1187.1 1504.7 1187.7 1505.4 1187.8 C1506.2 1187.9 1508.0 1187.9 1508.7 1187.9 C1509.4 1187.9 1511.0 1188.0 1511.8 1187.9 C1512.5 1187.9 1514.1 1187.6 1514.8 1187.6 C1515.5 1187.6 1517.1 1187.6 1517.9 1187.7 C1518.6 1187.7 1520.2 1188.1 1520.9 1188.2 C1521.6 1188.2 1523.2 1188.3 1524.0 1188.2 C1524.7 1188.1 1526.3 1187.4 1527.0 1187.3 C1527.7 1187.3 1529.3 1188.0 1530.1 1188.1 C1530.8 1188.2 1532.4 1188.2 1533.1 1188.2 C1533.8 1188.1 1535.4 1187.7 1536.2 1187.6 C1536.9 1187.5 1538.5 1187.7 1539.2 1187.6 C1539.9 1187.6 1541.5 1187.2 1542.2 1187.1 C1543.0 1187.1 1544.6 1187.5 1545.3 1187.5 C1546.0 1187.5 1547.6 1187.5 1548.4 1187.4 C1549.1 1187.4 1550.7 1187.5 1551.4 1187.4 C1552.1 1187.3 1553.8 1187.0 1554.6 1186.7 C1555.3 1186.4 1557.0 1185.3 1557.7 1185.2 C1558.4 1185.0 1560.1 1185.6 1560.8 1185.5 C1561.6 1185.4 1563.3 1184.3 1564.0 1184.1 C1564.7 1183.9 1566.4 1183.9 1567.1 1183.9 C1567.9 1183.8 1569.6 1183.5 1570.3 1183.4 C1571.0 1183.4 1572.7 1183.7 1573.4 1183.7 C1574.2 1183.6 1575.8 1183.2 1576.6 1183.1 C1577.3 1183.0 1579.0 1182.8 1579.7 1182.8 C1580.4 1182.7 1582.1 1182.9 1582.8 1182.7 C1583.6 1182.6 1585.3 1181.8 1586.0 1181.7 C1586.7 1181.6 1588.4 1182.0 1589.1 1182.0 C1589.9 1182.0 1591.5 1181.6 1592.3 1181.6 C1593.0 1181.6 1594.7 1182.0 1595.4 1182.0 C1596.1 1182.0 1597.8 1181.8 1598.6 1181.7 C1599.3 1181.5 1601.0 1181.0 1601.7 1180.9 C1602.4 1180.8 1604.0 1180.7 1604.7 1180.7 C1605.4 1180.7 1607.0 1181.0 1607.7 1181.0 C1608.4 1181.0 1610.1 1180.7 1610.8 1180.7 C1611.5 1180.7 1613.1 1181.0 1613.8 1181.1 C1614.5 1181.2 1616.1 1181.5 1616.8 1181.6 C1617.5 1181.7 1619.1 1181.8 1619.8 1181.8 C1620.5 1181.8 1622.1 1181.4 1622.8 1181.4 C1623.5 1181.3 1625.2 1181.3 1625.9 1181.2 C1626.6 1181.2 1628.2 1181.1 1628.9 1181.2 C1629.6 1181.2 1631.2 1181.4 1631.9 1181.6 C1632.6 1181.8 1634.5 1182.2 1635.2 1182.5 C1636.0 1182.7 1637.8 1183.4 1638.6 1183.5 C1639.4 1183.6 1641.2 1183.2 1642.0 1183.3 C1642.7 1183.5 1644.5 1184.6 1645.3 1184.8 C1646.1 1185.0 1647.9 1184.5 1648.7 1184.6 C1649.4 1184.7 1651.2 1185.8 1652.0 1185.9 C1652.8 1186.0 1654.4 1185.5 1655.1 1185.5 C1655.8 1185.4 1657.5 1185.4 1658.2 1185.4 C1658.9 1185.5 1660.6 1185.9 1661.3 1185.9 C1662.0 1185.9 1663.7 1185.4 1664.4 1185.4 C1665.1 1185.3 1666.8 1185.3 1667.5 1185.3 C1668.2 1185.4 1669.9 1185.6 1670.6 1185.6 C1671.3 1185.5 1673.0 1184.9 1673.7 1184.9 C1674.4 1184.9 1676.1 1185.6 1676.8 1185.6 C1677.5 1185.5 1679.2 1184.8 1679.9 1184.8 C1680.6 1184.7 1682.3 1185.1 1683.0 1185.1 C1683.7 1185.1 1685.4 1184.8 1686.1 1184.8 C1686.8 1184.7 1688.5 1184.6 1689.2 1184.6 C1689.9 1184.6 1691.6 1185.2 1692.3 1184.9 C1693.0 1184.6 1694.6 1182.9 1695.3 1182.3 C1696.0 1181.6 1697.6 1180.1 1698.3 1179.5 C1699.0 1178.8 1700.6 1177.3 1701.3 1176.7 C1702.0 1176.1 1703.6 1174.7 1704.3 1174.1 C1705.0 1173.5 1706.6 1172.0 1707.3 1171.5 C1708.0 1171.0 1709.9 1170.0 1710.7 1169.5 C1711.5 1168.9 1713.2 1167.5 1714.0 1166.9 C1714.8 1166.4 1716.6 1165.3 1717.4 1164.9 C1718.2 1164.5 1720.0 1163.7 1720.8 1163.3 C1721.6 1162.9 1723.3 1161.8 1724.1 1161.2 C1724.9 1160.7 1727.1 1159.3 1727.5 1159.0" fill="none" stroke="#000000" stroke-width="2.2" stroke-linejoin="round" stroke-linecap="round"/>
<path fill-rule="evenodd" fill="#111" d="M160.0 12.3H1732.7V1284.5H160.0Z M163.0 15.6V1281.6H1729.6V15.6Z"/>
<path fill-rule="evenodd" fill="#585858" d="M163.0 15.6H1729.6V1281.6H163.0Z M165.9 18.7V1278.6H1726.6V18.7Z"/>
<path d="M162.4 1283.0 V1307.0 M263.5 1283.0 V1296.0 M364.6 1283.0 V1307.0 M465.7 1283.0 V1296.0 M566.7 1283.0 V1307.0 M667.8 1283.0 V1296.0 M768.9 1283.0 V1307.0 M870.0 1283.0 V1296.0 M971.1 1283.0 V1307.0 M1072.2 1283.0 V1296.0 M1173.3 1283.0 V1307.0 M1274.4 1283.0 V1296.0 M1375.4 1283.0 V1307.0 M1476.5 1283.0 V1296.0 M1577.6 1283.0 V1307.0 M1678.7 1283.0 V1296.0" stroke="#1a1a1a" stroke-width="4.8" fill="none"/>
<text x="162.4" y="1370" font-family="'Liberation Serif','Times New Roman',serif" font-weight="bold" font-size="67.5" text-anchor="middle">200</text>
<text x="364.6" y="1370" font-family="'Liberation Serif','Times New Roman',serif" font-weight="bold" font-size="67.5" text-anchor="middle">400</text>
<text x="566.7" y="1370" font-family="'Liberation Serif','Times New Roman',serif" font-weight="bold" font-size="67.5" text-anchor="middle">600</text>
<text x="768.9" y="1370" font-family="'Liberation Serif','Times New Roman',serif" font-weight="bold" font-size="67.5" text-anchor="middle">800</text>
<text x="971.1" y="1370" font-family="'Liberation Serif','Times New Roman',serif" font-weight="bold" font-size="67.5" text-anchor="middle">1000</text>
<text x="1173.3" y="1370" font-family="'Liberation Serif','Times New Roman',serif" font-weight="bold" font-size="67.5" text-anchor="middle">1200</text>
<text x="1375.4" y="1370" font-family="'Liberation Serif','Times New Roman',serif" font-weight="bold" font-size="67.5" text-anchor="middle">1400</text>
<text x="1577.6" y="1370" font-family="'Liberation Serif','Times New Roman',serif" font-weight="bold" font-size="67.5" text-anchor="middle">1600</text>
<text x="369.5" y="574.0" font-family="'Liberation Serif','Times New Roman',serif" font-weight="bold" font-size="61">a</text>
<text x="363.7" y="756.0" font-family="'Liberation Serif','Times New Roman',serif" font-weight="bold" font-size="61">b</text>
<text x="358.5" y="886.0" font-family="'Liberation Serif','Times New Roman',serif" font-weight="bold" font-size="61">c</text>
<text x="349.0" y="1036.0" font-family="'Liberation Serif','Times New Roman',serif" font-weight="bold" font-size="61">d</text>
<text x="350.5" y="1148.0" font-family="'Liberation Serif','Times New Roman',serif" font-weight="bold" font-size="61">e</text>
<text transform="translate(551.5 574.0) rotate(-90)" font-family="'Liberation Serif','Times New Roman',serif" font-size="60" stroke="#000" stroke-width="0.9">570</text>
<text transform="translate(596.5 414.0) rotate(-90)" font-family="'Liberation Serif','Times New Roman',serif" font-size="60" stroke="#000" stroke-width="0.9">6<tspan font-weight="bold">1</tspan>4</text>
<text transform="translate(759.5 542.5) rotate(-90)" font-family="'Liberation Serif','Times New Roman',serif" font-size="60" stroke="#000" stroke-width="0.9">772</text>
<text transform="translate(1105.5 559.8) rotate(-90)" font-family="'Liberation Serif','Times New Roman',serif" font-size="60" stroke="#000" stroke-width="0.9"><tspan font-weight="bold">1</tspan><tspan font-weight="bold">1</tspan>26</text>
<text transform="translate(1171.5 505.8) rotate(-90)" font-family="'Liberation Serif','Times New Roman',serif" font-size="60" stroke="#000" stroke-width="0.9"><tspan font-weight="bold">1</tspan><tspan font-weight="bold">1</tspan>8<tspan font-weight="bold">1</tspan></text>
<text transform="translate(1303.5 327.8) rotate(-90)" font-family="'Liberation Serif','Times New Roman',serif" font-size="60" stroke="#000" stroke-width="0.9"><tspan font-weight="bold">1</tspan>3<tspan font-weight="bold">1</tspan><tspan font-weight="bold">1</tspan></text>
<text transform="translate(1357.5 190.8) rotate(-90)" font-family="'Liberation Serif','Times New Roman',serif" font-size="60" stroke="#000" stroke-width="0.9"><tspan font-weight="bold">1</tspan>364</text>
<text transform="translate(1504.5 174.8) rotate(-90)" font-family="'Liberation Serif','Times New Roman',serif" font-size="60" stroke="#000" stroke-width="0.9"><tspan font-weight="bold">1</tspan>5<tspan font-weight="bold">1</tspan>0</text>
<text transform="translate(1646.5 516.8) rotate(-90)" font-family="'Liberation Serif','Times New Roman',serif" font-size="60" stroke="#000" stroke-width="0.9"><tspan font-weight="bold">1</tspan>650</text>
<text transform="translate(71.3 915) rotate(-90)" font-family="'Liberation Serif','Times New Roman',serif" font-weight="bold" font-size="72">Intensity / a.u.</text>
<text x="652.2" y="1520" font-family="'Liberation Serif','Times New Roman',serif" font-weight="bold" font-size="72">Raman shift / cm<tspan dy="-31">-1</tspan></text>
</svg>
</body></html>
